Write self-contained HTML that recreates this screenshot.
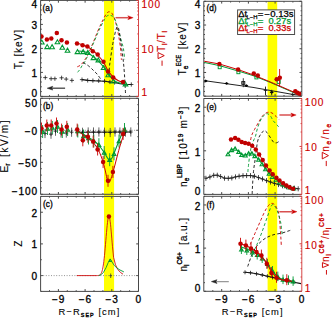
<!DOCTYPE html>
<html><head><meta charset="utf-8"><style>
html,body{margin:0;padding:0;background:#fff;}
svg{display:block;font-family:"Liberation Sans",sans-serif;}
</style></head><body>
<svg width="335" height="319" viewBox="0 0 335 319">
<rect width="335" height="319" fill="#fff"/>
<rect x="104.0" y="0" width="10.1" height="291.4" fill="#ffff00"/>
<rect x="267.6" y="1.3" width="9.6" height="290" fill="#ffff00"/>
<line x1="40.60" y1="0.40" x2="138.50" y2="0.40" stroke="#474747" stroke-width="1" />
<line x1="40.60" y1="96.40" x2="138.50" y2="96.40" stroke="#474747" stroke-width="1" />
<line x1="40.60" y1="0.40" x2="40.60" y2="96.40" stroke="#474747" stroke-width="1" />
<line x1="138.50" y1="0.40" x2="138.50" y2="96.40" stroke="#d43c3c" stroke-width="0.95" />
<line x1="49.50" y1="96.40" x2="49.50" y2="95.20" stroke="#474747" stroke-width="1" />
<line x1="49.50" y1="0.40" x2="49.50" y2="1.60" stroke="#474747" stroke-width="1" />
<line x1="58.40" y1="96.40" x2="58.40" y2="94.10" stroke="#474747" stroke-width="1" />
<line x1="58.40" y1="0.40" x2="58.40" y2="2.70" stroke="#474747" stroke-width="1" />
<line x1="67.30" y1="96.40" x2="67.30" y2="95.20" stroke="#474747" stroke-width="1" />
<line x1="67.30" y1="0.40" x2="67.30" y2="1.60" stroke="#474747" stroke-width="1" />
<line x1="76.20" y1="96.40" x2="76.20" y2="95.20" stroke="#474747" stroke-width="1" />
<line x1="76.20" y1="0.40" x2="76.20" y2="1.60" stroke="#474747" stroke-width="1" />
<line x1="85.10" y1="96.40" x2="85.10" y2="94.10" stroke="#474747" stroke-width="1" />
<line x1="85.10" y1="0.40" x2="85.10" y2="2.70" stroke="#474747" stroke-width="1" />
<line x1="94.00" y1="96.40" x2="94.00" y2="95.20" stroke="#474747" stroke-width="1" />
<line x1="94.00" y1="0.40" x2="94.00" y2="1.60" stroke="#474747" stroke-width="1" />
<line x1="102.90" y1="96.40" x2="102.90" y2="95.20" stroke="#474747" stroke-width="1" />
<line x1="102.90" y1="0.40" x2="102.90" y2="1.60" stroke="#474747" stroke-width="1" />
<line x1="111.80" y1="96.40" x2="111.80" y2="94.10" stroke="#474747" stroke-width="1" />
<line x1="111.80" y1="0.40" x2="111.80" y2="2.70" stroke="#474747" stroke-width="1" />
<line x1="120.70" y1="96.40" x2="120.70" y2="95.20" stroke="#474747" stroke-width="1" />
<line x1="120.70" y1="0.40" x2="120.70" y2="1.60" stroke="#474747" stroke-width="1" />
<line x1="129.60" y1="96.40" x2="129.60" y2="95.20" stroke="#474747" stroke-width="1" />
<line x1="129.60" y1="0.40" x2="129.60" y2="1.60" stroke="#474747" stroke-width="1" />
<line x1="40.60" y1="96.40" x2="42.90" y2="96.40" stroke="#474747" stroke-width="1" />
<line x1="40.60" y1="72.40" x2="42.90" y2="72.40" stroke="#474747" stroke-width="1" />
<line x1="40.60" y1="48.40" x2="42.90" y2="48.40" stroke="#474747" stroke-width="1" />
<line x1="40.60" y1="24.40" x2="42.90" y2="24.40" stroke="#474747" stroke-width="1" />
<line x1="40.60" y1="0.40" x2="42.90" y2="0.40" stroke="#474747" stroke-width="1" />
<line x1="40.60" y1="91.60" x2="41.80" y2="91.60" stroke="#474747" stroke-width="1" />
<line x1="40.60" y1="86.80" x2="41.80" y2="86.80" stroke="#474747" stroke-width="1" />
<line x1="40.60" y1="82.00" x2="41.80" y2="82.00" stroke="#474747" stroke-width="1" />
<line x1="40.60" y1="77.20" x2="41.80" y2="77.20" stroke="#474747" stroke-width="1" />
<line x1="40.60" y1="67.60" x2="41.80" y2="67.60" stroke="#474747" stroke-width="1" />
<line x1="40.60" y1="62.80" x2="41.80" y2="62.80" stroke="#474747" stroke-width="1" />
<line x1="40.60" y1="58.00" x2="41.80" y2="58.00" stroke="#474747" stroke-width="1" />
<line x1="40.60" y1="53.20" x2="41.80" y2="53.20" stroke="#474747" stroke-width="1" />
<line x1="40.60" y1="43.60" x2="41.80" y2="43.60" stroke="#474747" stroke-width="1" />
<line x1="40.60" y1="38.80" x2="41.80" y2="38.80" stroke="#474747" stroke-width="1" />
<line x1="40.60" y1="34.00" x2="41.80" y2="34.00" stroke="#474747" stroke-width="1" />
<line x1="40.60" y1="29.20" x2="41.80" y2="29.20" stroke="#474747" stroke-width="1" />
<line x1="40.60" y1="19.60" x2="41.80" y2="19.60" stroke="#474747" stroke-width="1" />
<line x1="40.60" y1="14.80" x2="41.80" y2="14.80" stroke="#474747" stroke-width="1" />
<line x1="40.60" y1="10.00" x2="41.80" y2="10.00" stroke="#474747" stroke-width="1" />
<line x1="40.60" y1="5.20" x2="41.80" y2="5.20" stroke="#474747" stroke-width="1" />
<line x1="138.50" y1="96.40" x2="136.20" y2="96.40" stroke="#d43c3c" stroke-width="1" />
<line x1="138.50" y1="48.40" x2="136.20" y2="48.40" stroke="#d43c3c" stroke-width="1" />
<line x1="138.50" y1="0.40" x2="136.20" y2="0.40" stroke="#d43c3c" stroke-width="1" />
<line x1="138.50" y1="81.95" x2="137.30" y2="81.95" stroke="#d43c3c" stroke-width="1" />
<line x1="138.50" y1="73.50" x2="137.30" y2="73.50" stroke="#d43c3c" stroke-width="1" />
<line x1="138.50" y1="67.50" x2="137.30" y2="67.50" stroke="#d43c3c" stroke-width="1" />
<line x1="138.50" y1="62.85" x2="137.30" y2="62.85" stroke="#d43c3c" stroke-width="1" />
<line x1="138.50" y1="59.05" x2="137.30" y2="59.05" stroke="#d43c3c" stroke-width="1" />
<line x1="138.50" y1="55.84" x2="137.30" y2="55.84" stroke="#d43c3c" stroke-width="1" />
<line x1="138.50" y1="53.05" x2="137.30" y2="53.05" stroke="#d43c3c" stroke-width="1" />
<line x1="138.50" y1="50.60" x2="137.30" y2="50.60" stroke="#d43c3c" stroke-width="1" />
<line x1="138.50" y1="33.95" x2="137.30" y2="33.95" stroke="#d43c3c" stroke-width="1" />
<line x1="138.50" y1="25.50" x2="137.30" y2="25.50" stroke="#d43c3c" stroke-width="1" />
<line x1="138.50" y1="19.50" x2="137.30" y2="19.50" stroke="#d43c3c" stroke-width="1" />
<line x1="138.50" y1="14.85" x2="137.30" y2="14.85" stroke="#d43c3c" stroke-width="1" />
<line x1="138.50" y1="11.05" x2="137.30" y2="11.05" stroke="#d43c3c" stroke-width="1" />
<line x1="138.50" y1="7.84" x2="137.30" y2="7.84" stroke="#d43c3c" stroke-width="1" />
<line x1="138.50" y1="5.05" x2="137.30" y2="5.05" stroke="#d43c3c" stroke-width="1" />
<line x1="138.50" y1="2.60" x2="137.30" y2="2.60" stroke="#d43c3c" stroke-width="1" />
<line x1="40.60" y1="98.30" x2="138.50" y2="98.30" stroke="#474747" stroke-width="1" />
<line x1="40.60" y1="194.30" x2="138.50" y2="194.30" stroke="#474747" stroke-width="1" />
<line x1="40.60" y1="98.30" x2="40.60" y2="194.30" stroke="#474747" stroke-width="1" />
<line x1="138.50" y1="98.30" x2="138.50" y2="194.30" stroke="#474747" stroke-width="1" />
<line x1="49.50" y1="194.30" x2="49.50" y2="193.10" stroke="#474747" stroke-width="1" />
<line x1="49.50" y1="98.30" x2="49.50" y2="99.50" stroke="#474747" stroke-width="1" />
<line x1="58.40" y1="194.30" x2="58.40" y2="192.00" stroke="#474747" stroke-width="1" />
<line x1="58.40" y1="98.30" x2="58.40" y2="100.60" stroke="#474747" stroke-width="1" />
<line x1="67.30" y1="194.30" x2="67.30" y2="193.10" stroke="#474747" stroke-width="1" />
<line x1="67.30" y1="98.30" x2="67.30" y2="99.50" stroke="#474747" stroke-width="1" />
<line x1="76.20" y1="194.30" x2="76.20" y2="193.10" stroke="#474747" stroke-width="1" />
<line x1="76.20" y1="98.30" x2="76.20" y2="99.50" stroke="#474747" stroke-width="1" />
<line x1="85.10" y1="194.30" x2="85.10" y2="192.00" stroke="#474747" stroke-width="1" />
<line x1="85.10" y1="98.30" x2="85.10" y2="100.60" stroke="#474747" stroke-width="1" />
<line x1="94.00" y1="194.30" x2="94.00" y2="193.10" stroke="#474747" stroke-width="1" />
<line x1="94.00" y1="98.30" x2="94.00" y2="99.50" stroke="#474747" stroke-width="1" />
<line x1="102.90" y1="194.30" x2="102.90" y2="193.10" stroke="#474747" stroke-width="1" />
<line x1="102.90" y1="98.30" x2="102.90" y2="99.50" stroke="#474747" stroke-width="1" />
<line x1="111.80" y1="194.30" x2="111.80" y2="192.00" stroke="#474747" stroke-width="1" />
<line x1="111.80" y1="98.30" x2="111.80" y2="100.60" stroke="#474747" stroke-width="1" />
<line x1="120.70" y1="194.30" x2="120.70" y2="193.10" stroke="#474747" stroke-width="1" />
<line x1="120.70" y1="98.30" x2="120.70" y2="99.50" stroke="#474747" stroke-width="1" />
<line x1="129.60" y1="194.30" x2="129.60" y2="193.10" stroke="#474747" stroke-width="1" />
<line x1="129.60" y1="98.30" x2="129.60" y2="99.50" stroke="#474747" stroke-width="1" />
<line x1="40.60" y1="194.30" x2="42.90" y2="194.30" stroke="#474747" stroke-width="1" />
<line x1="138.50" y1="194.30" x2="136.20" y2="194.30" stroke="#474747" stroke-width="1" />
<line x1="40.60" y1="162.30" x2="42.90" y2="162.30" stroke="#474747" stroke-width="1" />
<line x1="138.50" y1="162.30" x2="136.20" y2="162.30" stroke="#474747" stroke-width="1" />
<line x1="40.60" y1="130.30" x2="42.90" y2="130.30" stroke="#474747" stroke-width="1" />
<line x1="138.50" y1="130.30" x2="136.20" y2="130.30" stroke="#474747" stroke-width="1" />
<line x1="40.60" y1="98.30" x2="42.90" y2="98.30" stroke="#474747" stroke-width="1" />
<line x1="138.50" y1="98.30" x2="136.20" y2="98.30" stroke="#474747" stroke-width="1" />
<line x1="40.60" y1="187.90" x2="41.80" y2="187.90" stroke="#474747" stroke-width="1" />
<line x1="138.50" y1="187.90" x2="137.30" y2="187.90" stroke="#474747" stroke-width="1" />
<line x1="40.60" y1="181.50" x2="41.80" y2="181.50" stroke="#474747" stroke-width="1" />
<line x1="138.50" y1="181.50" x2="137.30" y2="181.50" stroke="#474747" stroke-width="1" />
<line x1="40.60" y1="175.10" x2="41.80" y2="175.10" stroke="#474747" stroke-width="1" />
<line x1="138.50" y1="175.10" x2="137.30" y2="175.10" stroke="#474747" stroke-width="1" />
<line x1="40.60" y1="168.70" x2="41.80" y2="168.70" stroke="#474747" stroke-width="1" />
<line x1="138.50" y1="168.70" x2="137.30" y2="168.70" stroke="#474747" stroke-width="1" />
<line x1="40.60" y1="155.90" x2="41.80" y2="155.90" stroke="#474747" stroke-width="1" />
<line x1="138.50" y1="155.90" x2="137.30" y2="155.90" stroke="#474747" stroke-width="1" />
<line x1="40.60" y1="149.50" x2="41.80" y2="149.50" stroke="#474747" stroke-width="1" />
<line x1="138.50" y1="149.50" x2="137.30" y2="149.50" stroke="#474747" stroke-width="1" />
<line x1="40.60" y1="143.10" x2="41.80" y2="143.10" stroke="#474747" stroke-width="1" />
<line x1="138.50" y1="143.10" x2="137.30" y2="143.10" stroke="#474747" stroke-width="1" />
<line x1="40.60" y1="136.70" x2="41.80" y2="136.70" stroke="#474747" stroke-width="1" />
<line x1="138.50" y1="136.70" x2="137.30" y2="136.70" stroke="#474747" stroke-width="1" />
<line x1="40.60" y1="123.90" x2="41.80" y2="123.90" stroke="#474747" stroke-width="1" />
<line x1="138.50" y1="123.90" x2="137.30" y2="123.90" stroke="#474747" stroke-width="1" />
<line x1="40.60" y1="117.50" x2="41.80" y2="117.50" stroke="#474747" stroke-width="1" />
<line x1="138.50" y1="117.50" x2="137.30" y2="117.50" stroke="#474747" stroke-width="1" />
<line x1="40.60" y1="111.10" x2="41.80" y2="111.10" stroke="#474747" stroke-width="1" />
<line x1="138.50" y1="111.10" x2="137.30" y2="111.10" stroke="#474747" stroke-width="1" />
<line x1="40.60" y1="104.70" x2="41.80" y2="104.70" stroke="#474747" stroke-width="1" />
<line x1="138.50" y1="104.70" x2="137.30" y2="104.70" stroke="#474747" stroke-width="1" />
<line x1="40.60" y1="196.40" x2="138.50" y2="196.40" stroke="#474747" stroke-width="1" />
<line x1="40.60" y1="291.40" x2="138.50" y2="291.40" stroke="#474747" stroke-width="1" />
<line x1="40.60" y1="196.40" x2="40.60" y2="291.40" stroke="#474747" stroke-width="1" />
<line x1="138.50" y1="196.40" x2="138.50" y2="291.40" stroke="#474747" stroke-width="1" />
<line x1="49.50" y1="291.40" x2="49.50" y2="290.20" stroke="#474747" stroke-width="1" />
<line x1="49.50" y1="196.40" x2="49.50" y2="197.60" stroke="#474747" stroke-width="1" />
<line x1="58.40" y1="291.40" x2="58.40" y2="289.10" stroke="#474747" stroke-width="1" />
<line x1="58.40" y1="196.40" x2="58.40" y2="198.70" stroke="#474747" stroke-width="1" />
<line x1="67.30" y1="291.40" x2="67.30" y2="290.20" stroke="#474747" stroke-width="1" />
<line x1="67.30" y1="196.40" x2="67.30" y2="197.60" stroke="#474747" stroke-width="1" />
<line x1="76.20" y1="291.40" x2="76.20" y2="290.20" stroke="#474747" stroke-width="1" />
<line x1="76.20" y1="196.40" x2="76.20" y2="197.60" stroke="#474747" stroke-width="1" />
<line x1="85.10" y1="291.40" x2="85.10" y2="289.10" stroke="#474747" stroke-width="1" />
<line x1="85.10" y1="196.40" x2="85.10" y2="198.70" stroke="#474747" stroke-width="1" />
<line x1="94.00" y1="291.40" x2="94.00" y2="290.20" stroke="#474747" stroke-width="1" />
<line x1="94.00" y1="196.40" x2="94.00" y2="197.60" stroke="#474747" stroke-width="1" />
<line x1="102.90" y1="291.40" x2="102.90" y2="290.20" stroke="#474747" stroke-width="1" />
<line x1="102.90" y1="196.40" x2="102.90" y2="197.60" stroke="#474747" stroke-width="1" />
<line x1="111.80" y1="291.40" x2="111.80" y2="289.10" stroke="#474747" stroke-width="1" />
<line x1="111.80" y1="196.40" x2="111.80" y2="198.70" stroke="#474747" stroke-width="1" />
<line x1="120.70" y1="291.40" x2="120.70" y2="290.20" stroke="#474747" stroke-width="1" />
<line x1="120.70" y1="196.40" x2="120.70" y2="197.60" stroke="#474747" stroke-width="1" />
<line x1="129.60" y1="291.40" x2="129.60" y2="290.20" stroke="#474747" stroke-width="1" />
<line x1="129.60" y1="196.40" x2="129.60" y2="197.60" stroke="#474747" stroke-width="1" />
<line x1="40.60" y1="275.57" x2="42.90" y2="275.57" stroke="#474747" stroke-width="1" />
<line x1="138.50" y1="275.57" x2="136.20" y2="275.57" stroke="#474747" stroke-width="1" />
<line x1="40.60" y1="243.90" x2="42.90" y2="243.90" stroke="#474747" stroke-width="1" />
<line x1="138.50" y1="243.90" x2="136.20" y2="243.90" stroke="#474747" stroke-width="1" />
<line x1="40.60" y1="212.23" x2="42.90" y2="212.23" stroke="#474747" stroke-width="1" />
<line x1="138.50" y1="212.23" x2="136.20" y2="212.23" stroke="#474747" stroke-width="1" />
<line x1="40.60" y1="291.40" x2="41.80" y2="291.40" stroke="#474747" stroke-width="1" />
<line x1="138.50" y1="291.40" x2="137.30" y2="291.40" stroke="#474747" stroke-width="1" />
<line x1="40.60" y1="259.73" x2="41.80" y2="259.73" stroke="#474747" stroke-width="1" />
<line x1="138.50" y1="259.73" x2="137.30" y2="259.73" stroke="#474747" stroke-width="1" />
<line x1="40.60" y1="228.07" x2="41.80" y2="228.07" stroke="#474747" stroke-width="1" />
<line x1="138.50" y1="228.07" x2="137.30" y2="228.07" stroke="#474747" stroke-width="1" />
<line x1="40.60" y1="196.40" x2="41.80" y2="196.40" stroke="#474747" stroke-width="1" />
<line x1="138.50" y1="196.40" x2="137.30" y2="196.40" stroke="#474747" stroke-width="1" />
<line x1="203.80" y1="1.30" x2="301.80" y2="1.30" stroke="#474747" stroke-width="1" />
<line x1="203.80" y1="96.20" x2="301.80" y2="96.20" stroke="#474747" stroke-width="1" />
<line x1="203.80" y1="1.30" x2="203.80" y2="96.20" stroke="#474747" stroke-width="1" />
<line x1="301.80" y1="1.30" x2="301.80" y2="96.20" stroke="#474747" stroke-width="1" />
<line x1="212.80" y1="96.20" x2="212.80" y2="95.00" stroke="#474747" stroke-width="1" />
<line x1="212.80" y1="1.30" x2="212.80" y2="2.50" stroke="#474747" stroke-width="1" />
<line x1="221.70" y1="96.20" x2="221.70" y2="93.90" stroke="#474747" stroke-width="1" />
<line x1="221.70" y1="1.30" x2="221.70" y2="3.60" stroke="#474747" stroke-width="1" />
<line x1="230.60" y1="96.20" x2="230.60" y2="95.00" stroke="#474747" stroke-width="1" />
<line x1="230.60" y1="1.30" x2="230.60" y2="2.50" stroke="#474747" stroke-width="1" />
<line x1="239.50" y1="96.20" x2="239.50" y2="95.00" stroke="#474747" stroke-width="1" />
<line x1="239.50" y1="1.30" x2="239.50" y2="2.50" stroke="#474747" stroke-width="1" />
<line x1="248.40" y1="96.20" x2="248.40" y2="93.90" stroke="#474747" stroke-width="1" />
<line x1="248.40" y1="1.30" x2="248.40" y2="3.60" stroke="#474747" stroke-width="1" />
<line x1="257.30" y1="96.20" x2="257.30" y2="95.00" stroke="#474747" stroke-width="1" />
<line x1="257.30" y1="1.30" x2="257.30" y2="2.50" stroke="#474747" stroke-width="1" />
<line x1="266.20" y1="96.20" x2="266.20" y2="95.00" stroke="#474747" stroke-width="1" />
<line x1="266.20" y1="1.30" x2="266.20" y2="2.50" stroke="#474747" stroke-width="1" />
<line x1="275.10" y1="96.20" x2="275.10" y2="93.90" stroke="#474747" stroke-width="1" />
<line x1="275.10" y1="1.30" x2="275.10" y2="3.60" stroke="#474747" stroke-width="1" />
<line x1="284.00" y1="96.20" x2="284.00" y2="95.00" stroke="#474747" stroke-width="1" />
<line x1="284.00" y1="1.30" x2="284.00" y2="2.50" stroke="#474747" stroke-width="1" />
<line x1="292.90" y1="96.20" x2="292.90" y2="95.00" stroke="#474747" stroke-width="1" />
<line x1="292.90" y1="1.30" x2="292.90" y2="2.50" stroke="#474747" stroke-width="1" />
<line x1="203.80" y1="96.20" x2="206.10" y2="96.20" stroke="#474747" stroke-width="1" />
<line x1="301.80" y1="96.20" x2="299.50" y2="96.20" stroke="#474747" stroke-width="1" />
<line x1="203.80" y1="72.47" x2="206.10" y2="72.47" stroke="#474747" stroke-width="1" />
<line x1="301.80" y1="72.47" x2="299.50" y2="72.47" stroke="#474747" stroke-width="1" />
<line x1="203.80" y1="48.75" x2="206.10" y2="48.75" stroke="#474747" stroke-width="1" />
<line x1="301.80" y1="48.75" x2="299.50" y2="48.75" stroke="#474747" stroke-width="1" />
<line x1="203.80" y1="25.02" x2="206.10" y2="25.02" stroke="#474747" stroke-width="1" />
<line x1="301.80" y1="25.02" x2="299.50" y2="25.02" stroke="#474747" stroke-width="1" />
<line x1="203.80" y1="1.30" x2="206.10" y2="1.30" stroke="#474747" stroke-width="1" />
<line x1="301.80" y1="1.30" x2="299.50" y2="1.30" stroke="#474747" stroke-width="1" />
<line x1="203.80" y1="91.45" x2="205.00" y2="91.45" stroke="#474747" stroke-width="1" />
<line x1="301.80" y1="91.45" x2="300.60" y2="91.45" stroke="#474747" stroke-width="1" />
<line x1="203.80" y1="86.71" x2="205.00" y2="86.71" stroke="#474747" stroke-width="1" />
<line x1="301.80" y1="86.71" x2="300.60" y2="86.71" stroke="#474747" stroke-width="1" />
<line x1="203.80" y1="81.97" x2="205.00" y2="81.97" stroke="#474747" stroke-width="1" />
<line x1="301.80" y1="81.97" x2="300.60" y2="81.97" stroke="#474747" stroke-width="1" />
<line x1="203.80" y1="77.22" x2="205.00" y2="77.22" stroke="#474747" stroke-width="1" />
<line x1="301.80" y1="77.22" x2="300.60" y2="77.22" stroke="#474747" stroke-width="1" />
<line x1="203.80" y1="67.73" x2="205.00" y2="67.73" stroke="#474747" stroke-width="1" />
<line x1="301.80" y1="67.73" x2="300.60" y2="67.73" stroke="#474747" stroke-width="1" />
<line x1="203.80" y1="62.98" x2="205.00" y2="62.98" stroke="#474747" stroke-width="1" />
<line x1="301.80" y1="62.98" x2="300.60" y2="62.98" stroke="#474747" stroke-width="1" />
<line x1="203.80" y1="58.24" x2="205.00" y2="58.24" stroke="#474747" stroke-width="1" />
<line x1="301.80" y1="58.24" x2="300.60" y2="58.24" stroke="#474747" stroke-width="1" />
<line x1="203.80" y1="53.49" x2="205.00" y2="53.49" stroke="#474747" stroke-width="1" />
<line x1="301.80" y1="53.49" x2="300.60" y2="53.49" stroke="#474747" stroke-width="1" />
<line x1="203.80" y1="44.00" x2="205.00" y2="44.00" stroke="#474747" stroke-width="1" />
<line x1="301.80" y1="44.00" x2="300.60" y2="44.00" stroke="#474747" stroke-width="1" />
<line x1="203.80" y1="39.26" x2="205.00" y2="39.26" stroke="#474747" stroke-width="1" />
<line x1="301.80" y1="39.26" x2="300.60" y2="39.26" stroke="#474747" stroke-width="1" />
<line x1="203.80" y1="34.52" x2="205.00" y2="34.52" stroke="#474747" stroke-width="1" />
<line x1="301.80" y1="34.52" x2="300.60" y2="34.52" stroke="#474747" stroke-width="1" />
<line x1="203.80" y1="29.77" x2="205.00" y2="29.77" stroke="#474747" stroke-width="1" />
<line x1="301.80" y1="29.77" x2="300.60" y2="29.77" stroke="#474747" stroke-width="1" />
<line x1="203.80" y1="20.28" x2="205.00" y2="20.28" stroke="#474747" stroke-width="1" />
<line x1="301.80" y1="20.28" x2="300.60" y2="20.28" stroke="#474747" stroke-width="1" />
<line x1="203.80" y1="15.53" x2="205.00" y2="15.53" stroke="#474747" stroke-width="1" />
<line x1="301.80" y1="15.53" x2="300.60" y2="15.53" stroke="#474747" stroke-width="1" />
<line x1="203.80" y1="10.79" x2="205.00" y2="10.79" stroke="#474747" stroke-width="1" />
<line x1="301.80" y1="10.79" x2="300.60" y2="10.79" stroke="#474747" stroke-width="1" />
<line x1="203.80" y1="6.05" x2="205.00" y2="6.05" stroke="#474747" stroke-width="1" />
<line x1="301.80" y1="6.05" x2="300.60" y2="6.05" stroke="#474747" stroke-width="1" />
<line x1="203.80" y1="98.50" x2="301.80" y2="98.50" stroke="#474747" stroke-width="1" />
<line x1="203.80" y1="194.40" x2="301.80" y2="194.40" stroke="#474747" stroke-width="1" />
<line x1="203.80" y1="98.50" x2="203.80" y2="194.40" stroke="#474747" stroke-width="1" />
<line x1="301.80" y1="98.50" x2="301.80" y2="194.40" stroke="#d43c3c" stroke-width="0.95" />
<line x1="212.80" y1="194.40" x2="212.80" y2="193.20" stroke="#474747" stroke-width="1" />
<line x1="212.80" y1="98.50" x2="212.80" y2="99.70" stroke="#474747" stroke-width="1" />
<line x1="221.70" y1="194.40" x2="221.70" y2="192.10" stroke="#474747" stroke-width="1" />
<line x1="221.70" y1="98.50" x2="221.70" y2="100.80" stroke="#474747" stroke-width="1" />
<line x1="230.60" y1="194.40" x2="230.60" y2="193.20" stroke="#474747" stroke-width="1" />
<line x1="230.60" y1="98.50" x2="230.60" y2="99.70" stroke="#474747" stroke-width="1" />
<line x1="239.50" y1="194.40" x2="239.50" y2="193.20" stroke="#474747" stroke-width="1" />
<line x1="239.50" y1="98.50" x2="239.50" y2="99.70" stroke="#474747" stroke-width="1" />
<line x1="248.40" y1="194.40" x2="248.40" y2="192.10" stroke="#474747" stroke-width="1" />
<line x1="248.40" y1="98.50" x2="248.40" y2="100.80" stroke="#474747" stroke-width="1" />
<line x1="257.30" y1="194.40" x2="257.30" y2="193.20" stroke="#474747" stroke-width="1" />
<line x1="257.30" y1="98.50" x2="257.30" y2="99.70" stroke="#474747" stroke-width="1" />
<line x1="266.20" y1="194.40" x2="266.20" y2="193.20" stroke="#474747" stroke-width="1" />
<line x1="266.20" y1="98.50" x2="266.20" y2="99.70" stroke="#474747" stroke-width="1" />
<line x1="275.10" y1="194.40" x2="275.10" y2="192.10" stroke="#474747" stroke-width="1" />
<line x1="275.10" y1="98.50" x2="275.10" y2="100.80" stroke="#474747" stroke-width="1" />
<line x1="284.00" y1="194.40" x2="284.00" y2="193.20" stroke="#474747" stroke-width="1" />
<line x1="284.00" y1="98.50" x2="284.00" y2="99.70" stroke="#474747" stroke-width="1" />
<line x1="292.90" y1="194.40" x2="292.90" y2="193.20" stroke="#474747" stroke-width="1" />
<line x1="292.90" y1="98.50" x2="292.90" y2="99.70" stroke="#474747" stroke-width="1" />
<line x1="203.80" y1="194.40" x2="206.10" y2="194.40" stroke="#474747" stroke-width="1" />
<line x1="203.80" y1="150.81" x2="206.10" y2="150.81" stroke="#474747" stroke-width="1" />
<line x1="203.80" y1="107.22" x2="206.10" y2="107.22" stroke="#474747" stroke-width="1" />
<line x1="203.80" y1="185.68" x2="205.00" y2="185.68" stroke="#474747" stroke-width="1" />
<line x1="203.80" y1="176.96" x2="205.00" y2="176.96" stroke="#474747" stroke-width="1" />
<line x1="203.80" y1="168.25" x2="205.00" y2="168.25" stroke="#474747" stroke-width="1" />
<line x1="203.80" y1="159.53" x2="205.00" y2="159.53" stroke="#474747" stroke-width="1" />
<line x1="203.80" y1="142.09" x2="205.00" y2="142.09" stroke="#474747" stroke-width="1" />
<line x1="203.80" y1="133.37" x2="205.00" y2="133.37" stroke="#474747" stroke-width="1" />
<line x1="203.80" y1="124.65" x2="205.00" y2="124.65" stroke="#474747" stroke-width="1" />
<line x1="203.80" y1="115.94" x2="205.00" y2="115.94" stroke="#474747" stroke-width="1" />
<line x1="203.80" y1="98.50" x2="205.00" y2="98.50" stroke="#474747" stroke-width="1" />
<line x1="301.80" y1="194.40" x2="299.50" y2="194.40" stroke="#d43c3c" stroke-width="1" />
<line x1="301.80" y1="146.45" x2="299.50" y2="146.45" stroke="#d43c3c" stroke-width="1" />
<line x1="301.80" y1="98.50" x2="299.50" y2="98.50" stroke="#d43c3c" stroke-width="1" />
<line x1="301.80" y1="179.97" x2="300.60" y2="179.97" stroke="#d43c3c" stroke-width="1" />
<line x1="301.80" y1="171.52" x2="300.60" y2="171.52" stroke="#d43c3c" stroke-width="1" />
<line x1="301.80" y1="165.53" x2="300.60" y2="165.53" stroke="#d43c3c" stroke-width="1" />
<line x1="301.80" y1="160.88" x2="300.60" y2="160.88" stroke="#d43c3c" stroke-width="1" />
<line x1="301.80" y1="157.09" x2="300.60" y2="157.09" stroke="#d43c3c" stroke-width="1" />
<line x1="301.80" y1="153.88" x2="300.60" y2="153.88" stroke="#d43c3c" stroke-width="1" />
<line x1="301.80" y1="151.10" x2="300.60" y2="151.10" stroke="#d43c3c" stroke-width="1" />
<line x1="301.80" y1="148.64" x2="300.60" y2="148.64" stroke="#d43c3c" stroke-width="1" />
<line x1="301.80" y1="132.02" x2="300.60" y2="132.02" stroke="#d43c3c" stroke-width="1" />
<line x1="301.80" y1="123.57" x2="300.60" y2="123.57" stroke="#d43c3c" stroke-width="1" />
<line x1="301.80" y1="117.58" x2="300.60" y2="117.58" stroke="#d43c3c" stroke-width="1" />
<line x1="301.80" y1="112.93" x2="300.60" y2="112.93" stroke="#d43c3c" stroke-width="1" />
<line x1="301.80" y1="109.14" x2="300.60" y2="109.14" stroke="#d43c3c" stroke-width="1" />
<line x1="301.80" y1="105.93" x2="300.60" y2="105.93" stroke="#d43c3c" stroke-width="1" />
<line x1="301.80" y1="103.15" x2="300.60" y2="103.15" stroke="#d43c3c" stroke-width="1" />
<line x1="301.80" y1="100.69" x2="300.60" y2="100.69" stroke="#d43c3c" stroke-width="1" />
<line x1="203.80" y1="196.30" x2="301.80" y2="196.30" stroke="#474747" stroke-width="1" />
<line x1="203.80" y1="291.30" x2="301.80" y2="291.30" stroke="#474747" stroke-width="1" />
<line x1="203.80" y1="196.30" x2="203.80" y2="291.30" stroke="#474747" stroke-width="1" />
<line x1="301.80" y1="196.30" x2="301.80" y2="291.30" stroke="#d43c3c" stroke-width="0.95" />
<line x1="212.80" y1="291.30" x2="212.80" y2="290.10" stroke="#474747" stroke-width="1" />
<line x1="212.80" y1="196.30" x2="212.80" y2="197.50" stroke="#474747" stroke-width="1" />
<line x1="221.70" y1="291.30" x2="221.70" y2="289.00" stroke="#474747" stroke-width="1" />
<line x1="221.70" y1="196.30" x2="221.70" y2="198.60" stroke="#474747" stroke-width="1" />
<line x1="230.60" y1="291.30" x2="230.60" y2="290.10" stroke="#474747" stroke-width="1" />
<line x1="230.60" y1="196.30" x2="230.60" y2="197.50" stroke="#474747" stroke-width="1" />
<line x1="239.50" y1="291.30" x2="239.50" y2="290.10" stroke="#474747" stroke-width="1" />
<line x1="239.50" y1="196.30" x2="239.50" y2="197.50" stroke="#474747" stroke-width="1" />
<line x1="248.40" y1="291.30" x2="248.40" y2="289.00" stroke="#474747" stroke-width="1" />
<line x1="248.40" y1="196.30" x2="248.40" y2="198.60" stroke="#474747" stroke-width="1" />
<line x1="257.30" y1="291.30" x2="257.30" y2="290.10" stroke="#474747" stroke-width="1" />
<line x1="257.30" y1="196.30" x2="257.30" y2="197.50" stroke="#474747" stroke-width="1" />
<line x1="266.20" y1="291.30" x2="266.20" y2="290.10" stroke="#474747" stroke-width="1" />
<line x1="266.20" y1="196.30" x2="266.20" y2="197.50" stroke="#474747" stroke-width="1" />
<line x1="275.10" y1="291.30" x2="275.10" y2="289.00" stroke="#474747" stroke-width="1" />
<line x1="275.10" y1="196.30" x2="275.10" y2="198.60" stroke="#474747" stroke-width="1" />
<line x1="284.00" y1="291.30" x2="284.00" y2="290.10" stroke="#474747" stroke-width="1" />
<line x1="284.00" y1="196.30" x2="284.00" y2="197.50" stroke="#474747" stroke-width="1" />
<line x1="292.90" y1="291.30" x2="292.90" y2="290.10" stroke="#474747" stroke-width="1" />
<line x1="292.90" y1="196.30" x2="292.90" y2="197.50" stroke="#474747" stroke-width="1" />
<line x1="203.80" y1="291.30" x2="206.10" y2="291.30" stroke="#474747" stroke-width="1" />
<line x1="203.80" y1="248.12" x2="206.10" y2="248.12" stroke="#474747" stroke-width="1" />
<line x1="203.80" y1="204.94" x2="206.10" y2="204.94" stroke="#474747" stroke-width="1" />
<line x1="203.80" y1="282.66" x2="205.00" y2="282.66" stroke="#474747" stroke-width="1" />
<line x1="203.80" y1="274.03" x2="205.00" y2="274.03" stroke="#474747" stroke-width="1" />
<line x1="203.80" y1="265.39" x2="205.00" y2="265.39" stroke="#474747" stroke-width="1" />
<line x1="203.80" y1="256.75" x2="205.00" y2="256.75" stroke="#474747" stroke-width="1" />
<line x1="203.80" y1="239.48" x2="205.00" y2="239.48" stroke="#474747" stroke-width="1" />
<line x1="203.80" y1="230.85" x2="205.00" y2="230.85" stroke="#474747" stroke-width="1" />
<line x1="203.80" y1="222.21" x2="205.00" y2="222.21" stroke="#474747" stroke-width="1" />
<line x1="203.80" y1="213.57" x2="205.00" y2="213.57" stroke="#474747" stroke-width="1" />
<line x1="203.80" y1="196.30" x2="205.00" y2="196.30" stroke="#474747" stroke-width="1" />
<line x1="301.80" y1="291.30" x2="299.50" y2="291.30" stroke="#d43c3c" stroke-width="1" />
<line x1="301.80" y1="243.80" x2="299.50" y2="243.80" stroke="#d43c3c" stroke-width="1" />
<line x1="301.80" y1="196.30" x2="299.50" y2="196.30" stroke="#d43c3c" stroke-width="1" />
<line x1="301.80" y1="277.00" x2="300.60" y2="277.00" stroke="#d43c3c" stroke-width="1" />
<line x1="301.80" y1="268.64" x2="300.60" y2="268.64" stroke="#d43c3c" stroke-width="1" />
<line x1="301.80" y1="262.70" x2="300.60" y2="262.70" stroke="#d43c3c" stroke-width="1" />
<line x1="301.80" y1="258.10" x2="300.60" y2="258.10" stroke="#d43c3c" stroke-width="1" />
<line x1="301.80" y1="254.34" x2="300.60" y2="254.34" stroke="#d43c3c" stroke-width="1" />
<line x1="301.80" y1="251.16" x2="300.60" y2="251.16" stroke="#d43c3c" stroke-width="1" />
<line x1="301.80" y1="248.40" x2="300.60" y2="248.40" stroke="#d43c3c" stroke-width="1" />
<line x1="301.80" y1="245.97" x2="300.60" y2="245.97" stroke="#d43c3c" stroke-width="1" />
<line x1="301.80" y1="229.50" x2="300.60" y2="229.50" stroke="#d43c3c" stroke-width="1" />
<line x1="301.80" y1="221.14" x2="300.60" y2="221.14" stroke="#d43c3c" stroke-width="1" />
<line x1="301.80" y1="215.20" x2="300.60" y2="215.20" stroke="#d43c3c" stroke-width="1" />
<line x1="301.80" y1="210.60" x2="300.60" y2="210.60" stroke="#d43c3c" stroke-width="1" />
<line x1="301.80" y1="206.84" x2="300.60" y2="206.84" stroke="#d43c3c" stroke-width="1" />
<line x1="301.80" y1="203.66" x2="300.60" y2="203.66" stroke="#d43c3c" stroke-width="1" />
<line x1="301.80" y1="200.90" x2="300.60" y2="200.90" stroke="#d43c3c" stroke-width="1" />
<line x1="301.80" y1="198.47" x2="300.60" y2="198.47" stroke="#d43c3c" stroke-width="1" />
<text x="38.00" y="7.60" font-size="10.1" text-anchor="end" fill="#000" letter-spacing="0.85" stroke-width="0.3" stroke="#000">4</text>
<text x="38.00" y="29.20" font-size="10.1" text-anchor="end" fill="#000" letter-spacing="0.85" stroke-width="0.3" stroke="#000">3</text>
<text x="38.00" y="53.00" font-size="10.1" text-anchor="end" fill="#000" letter-spacing="0.85" stroke-width="0.3" stroke="#000">2</text>
<text x="38.00" y="76.70" font-size="10.1" text-anchor="end" fill="#000" letter-spacing="0.85" stroke-width="0.3" stroke="#000">1</text>
<text x="38.00" y="96.60" font-size="10.1" text-anchor="end" fill="#000" letter-spacing="0.85" stroke-width="0.3" stroke="#000">0</text>
<text x="38.00" y="106.70" font-size="10.1" text-anchor="end" fill="#000" letter-spacing="0.85" stroke-width="0.3" stroke="#000">50</text>
<text x="38.00" y="135.20" font-size="10.1" text-anchor="end" fill="#000" letter-spacing="0.85" stroke-width="0.3" stroke="#000">−0</text>
<text x="38.00" y="167.00" font-size="10.1" text-anchor="end" fill="#000" letter-spacing="0.85" stroke-width="0.3" stroke="#000">−50</text>
<text x="38.00" y="194.70" font-size="10.1" text-anchor="end" fill="#000" letter-spacing="0.85" stroke-width="0.3" stroke="#000">−100</text>
<text x="38.00" y="217.00" font-size="10.1" text-anchor="end" fill="#000" letter-spacing="0.85" stroke-width="0.3" stroke="#000">2</text>
<text x="38.00" y="248.40" font-size="10.1" text-anchor="end" fill="#000" letter-spacing="0.85" stroke-width="0.3" stroke="#000">1</text>
<text x="38.00" y="280.30" font-size="10.1" text-anchor="end" fill="#000" letter-spacing="0.85" stroke-width="0.3" stroke="#000">0</text>
<text x="141.50" y="8.40" font-size="10.1" text-anchor="start" fill="#cc0000" letter-spacing="0.85" stroke-width="0.12" stroke="#cc0000">100</text>
<text x="141.50" y="52.90" font-size="10.1" text-anchor="start" fill="#cc0000" letter-spacing="0.85" stroke-width="0.12" stroke="#cc0000">10</text>
<text x="141.50" y="96.40" font-size="10.1" text-anchor="start" fill="#cc0000" letter-spacing="0.85" stroke-width="0.12" stroke="#cc0000">1</text>
<text x="201.20" y="8.40" font-size="10.1" text-anchor="end" fill="#000" letter-spacing="0.85" stroke-width="0.3" stroke="#000">4</text>
<text x="201.20" y="29.20" font-size="10.1" text-anchor="end" fill="#000" letter-spacing="0.85" stroke-width="0.3" stroke="#000">3</text>
<text x="201.20" y="53.10" font-size="10.1" text-anchor="end" fill="#000" letter-spacing="0.85" stroke-width="0.3" stroke="#000">2</text>
<text x="201.20" y="77.30" font-size="10.1" text-anchor="end" fill="#000" letter-spacing="0.85" stroke-width="0.3" stroke="#000">1</text>
<text x="201.20" y="97.00" font-size="10.1" text-anchor="end" fill="#000" letter-spacing="0.85" stroke-width="0.3" stroke="#000">0</text>
<text x="201.20" y="112.20" font-size="10.1" text-anchor="end" fill="#000" letter-spacing="0.85" stroke-width="0.3" stroke="#000">2</text>
<text x="201.20" y="155.70" font-size="10.1" text-anchor="end" fill="#000" letter-spacing="0.85" stroke-width="0.3" stroke="#000">1</text>
<text x="201.20" y="195.30" font-size="10.1" text-anchor="end" fill="#000" letter-spacing="0.85" stroke-width="0.3" stroke="#000">0</text>
<text x="201.20" y="209.90" font-size="10.1" text-anchor="end" fill="#000" letter-spacing="0.85" stroke-width="0.3" stroke="#000">2</text>
<text x="201.20" y="253.10" font-size="10.1" text-anchor="end" fill="#000" letter-spacing="0.85" stroke-width="0.3" stroke="#000">1</text>
<text x="201.20" y="292.20" font-size="10.1" text-anchor="end" fill="#000" letter-spacing="0.85" stroke-width="0.3" stroke="#000">0</text>
<text x="304.80" y="105.70" font-size="10.1" text-anchor="start" fill="#cc0000" letter-spacing="0.85" stroke-width="0.12" stroke="#cc0000">100</text>
<text x="304.80" y="151.00" font-size="10.1" text-anchor="start" fill="#cc0000" letter-spacing="0.85" stroke-width="0.12" stroke="#cc0000">10</text>
<text x="304.80" y="194.30" font-size="10.1" text-anchor="start" fill="#cc0000" letter-spacing="0.85" stroke-width="0.12" stroke="#cc0000">1</text>
<text x="304.80" y="204.30" font-size="10.1" text-anchor="start" fill="#cc0000" letter-spacing="0.85" stroke-width="0.12" stroke="#cc0000">100</text>
<text x="304.80" y="249.00" font-size="10.1" text-anchor="start" fill="#cc0000" letter-spacing="0.85" stroke-width="0.12" stroke="#cc0000">10</text>
<text x="304.80" y="292.40" font-size="10.1" text-anchor="start" fill="#cc0000" letter-spacing="0.85" stroke-width="0.12" stroke="#cc0000">1</text>
<text x="58.60" y="303.30" font-size="10.1" text-anchor="middle" fill="#000" letter-spacing="0.85" stroke-width="0.3" stroke="#000">−9</text>
<text x="85.30" y="303.30" font-size="10.1" text-anchor="middle" fill="#000" letter-spacing="0.85" stroke-width="0.3" stroke="#000">−6</text>
<text x="112.00" y="303.30" font-size="10.1" text-anchor="middle" fill="#000" letter-spacing="0.85" stroke-width="0.3" stroke="#000">−3</text>
<text x="138.80" y="303.30" font-size="10.1" text-anchor="middle" fill="#000" letter-spacing="0.85" stroke-width="0.3" stroke="#000">0</text>
<text x="221.90" y="303.30" font-size="10.1" text-anchor="middle" fill="#000" letter-spacing="0.85" stroke-width="0.3" stroke="#000">−9</text>
<text x="248.60" y="303.30" font-size="10.1" text-anchor="middle" fill="#000" letter-spacing="0.85" stroke-width="0.3" stroke="#000">−6</text>
<text x="275.30" y="303.30" font-size="10.1" text-anchor="middle" fill="#000" letter-spacing="0.85" stroke-width="0.3" stroke="#000">−3</text>
<text x="302.10" y="303.30" font-size="10.1" text-anchor="middle" fill="#000" letter-spacing="0.85" stroke-width="0.3" stroke="#000">0</text>
<defs>
<clipPath id="ca"><rect x="41.1" y="0.9" width="96.9" height="95.0"/></clipPath>
<clipPath id="cb"><rect x="41.1" y="98.8" width="96.9" height="95.00000000000001"/></clipPath>
<clipPath id="cc"><rect x="41.1" y="196.9" width="96.9" height="93.99999999999997"/></clipPath>
<clipPath id="cd"><rect x="204.3" y="1.8" width="97.0" height="93.9"/></clipPath>
<clipPath id="ce"><rect x="204.3" y="99.0" width="97.0" height="94.9"/></clipPath>
<clipPath id="cf"><rect x="204.3" y="196.8" width="97.0" height="94.0"/></clipPath>
</defs>
<g clip-path="url(#ca)">
<path d="M77.30,66.80 C77.80,66.55 79.35,66.02 80.30,65.30 C81.25,64.58 82.13,63.58 83.00,62.50 C83.87,61.42 84.63,60.22 85.50,58.80 C86.37,57.38 86.95,56.63 88.20,54.00 C89.45,51.37 91.43,46.75 93.00,43.00 C94.57,39.25 96.18,34.83 97.60,31.50 C99.02,28.17 100.27,25.58 101.50,23.00 C102.73,20.42 104.00,17.75 105.00,16.00 C106.00,14.25 106.77,13.20 107.50,12.50 C108.23,11.80 108.73,11.75 109.40,11.80 C110.07,11.85 110.73,11.90 111.50,12.80 C112.27,13.70 113.17,15.08 114.00,17.20 C114.83,19.32 115.75,22.53 116.50,25.50 C117.25,28.47 117.85,31.42 118.50,35.00 C119.15,38.58 119.92,42.87 120.40,47.00 C120.88,51.13 121.23,57.67 121.40,59.80" fill="none" stroke="#cc0000" stroke-width="0.9" stroke-linejoin="round" stroke-dasharray="3,2.2" clip-path="url(#ca)"/>
<path d="M77.60,72.30 C77.98,71.82 79.17,70.48 79.90,69.40 C80.63,68.32 81.25,66.95 82.00,65.80 C82.75,64.65 83.57,63.88 84.40,62.50 C85.23,61.12 85.73,60.17 87.00,57.50 C88.27,54.83 90.23,50.50 92.00,46.50 C93.77,42.50 96.02,37.08 97.60,33.50 C99.18,29.92 100.35,27.33 101.50,25.00 C102.65,22.67 103.62,20.97 104.50,19.50 C105.38,18.03 106.12,16.90 106.80,16.20 C107.48,15.50 107.90,15.40 108.60,15.30 C109.30,15.20 110.10,15.25 111.00,15.60 C111.90,15.95 113.00,15.75 114.00,17.40 C115.00,19.05 116.00,22.40 117.00,25.50 C118.00,28.60 119.17,33.08 120.00,36.00 C120.83,38.92 121.42,40.83 122.00,43.00 C122.58,45.17 123.05,46.28 123.50,49.00 C123.95,51.72 124.50,57.58 124.70,59.30" fill="none" stroke="#009933" stroke-width="0.9" stroke-linejoin="round" stroke-dasharray="3,2.2" clip-path="url(#ca)"/>
<path d="M83.00,62.50 C83.50,62.78 85.08,63.63 86.00,64.20 C86.92,64.77 87.58,65.18 88.50,65.90 C89.42,66.62 90.55,67.62 91.50,68.50 C92.45,69.38 93.28,70.28 94.20,71.20 C95.12,72.12 95.93,72.73 97.00,74.00 C98.07,75.27 100.00,78.00 100.60,78.80" fill="none" stroke="#111" stroke-width="0.9" stroke-linejoin="round" stroke-dasharray="3,2.2" clip-path="url(#ca)"/>
<path d="M109.00,76.00 C109.07,74.50 109.15,69.83 109.40,67.00 C109.65,64.17 109.98,62.58 110.50,59.00 C111.02,55.42 111.90,49.07 112.50,45.50 C113.10,41.93 113.57,40.08 114.10,37.60 C114.63,35.12 115.17,32.40 115.70,30.60 C116.23,28.80 116.82,27.15 117.30,26.80 C117.78,26.45 118.15,26.97 118.60,28.50 C119.05,30.03 119.52,32.92 120.00,36.00 C120.48,39.08 120.97,43.00 121.50,47.00 C122.03,51.00 122.70,55.33 123.20,60.00 C123.70,64.67 124.12,69.50 124.50,75.00 C124.88,80.50 125.33,90.00 125.50,93.00" fill="none" stroke="#111" stroke-width="0.9" stroke-linejoin="round" stroke-dasharray="3,2.2" clip-path="url(#ca)"/>
<polyline points="82.00,79.60 88.00,80.40 93.00,80.70 99.00,81.00 104.50,81.20 110.00,82.00 114.60,82.50 120.00,83.80 125.00,84.20 131.30,84.50" fill="none" stroke="#111" stroke-width="1.1" stroke-linejoin="round" />
<path d="M43.20,77.60 H47.40 M45.30,75.50 V79.70" stroke="#1a1a1a" stroke-width="0.8" fill="none"/>
<path d="M49.00,78.70 H53.20 M51.10,76.60 V80.80" stroke="#1a1a1a" stroke-width="0.8" fill="none"/>
<path d="M52.80,78.70 H57.00 M54.90,76.60 V80.80" stroke="#1a1a1a" stroke-width="0.8" fill="none"/>
<path d="M59.50,77.80 H63.70 M61.60,75.70 V79.90" stroke="#1a1a1a" stroke-width="0.8" fill="none"/>
<path d="M64.10,79.10 H68.30 M66.20,77.00 V81.20" stroke="#1a1a1a" stroke-width="0.8" fill="none"/>
<path d="M69.80,80.40 H74.00 M71.90,78.30 V82.50" stroke="#1a1a1a" stroke-width="0.8" fill="none"/>
<path d="M79.90,79.60 H84.10 M82.00,77.50 V81.70" stroke="#1a1a1a" stroke-width="0.8" fill="none"/>
<path d="M85.60,80.40 H89.80 M87.70,78.30 V82.50" stroke="#1a1a1a" stroke-width="0.8" fill="none"/>
<path d="M90.80,80.60 H95.00 M92.90,78.50 V82.70" stroke="#1a1a1a" stroke-width="0.8" fill="none"/>
<path d="M96.60,80.80 H100.80 M98.70,78.70 V82.90" stroke="#1a1a1a" stroke-width="0.8" fill="none"/>
<path d="M102.40,81.20 H106.60 M104.50,79.10 V83.30" stroke="#1a1a1a" stroke-width="0.8" fill="none"/>
<path d="M107.80,82.00 H112.00 M109.90,79.90 V84.10" stroke="#1a1a1a" stroke-width="0.8" fill="none"/>
<path d="M112.50,82.50 H116.70 M114.60,80.40 V84.60" stroke="#1a1a1a" stroke-width="0.8" fill="none"/>
<path d="M129.20,84.50 H133.40 M131.30,82.40 V86.60" stroke="#1a1a1a" stroke-width="0.8" fill="none"/>
<path d="M77.00,43.30 C77.93,43.58 80.87,44.42 82.60,45.00 C84.33,45.58 85.70,45.88 87.40,46.80 C89.10,47.72 91.08,49.13 92.80,50.50 C94.52,51.87 95.93,53.08 97.70,55.00 C99.47,56.92 101.68,59.42 103.40,62.00 C105.12,64.58 106.37,68.00 108.00,70.50 C109.63,73.00 111.53,75.33 113.20,77.00 C114.87,78.67 116.35,79.62 118.00,80.50 C119.65,81.38 121.77,81.88 123.10,82.30 C124.43,82.72 125.52,82.88 126.00,83.00" fill="none" stroke="#cc0000" stroke-width="1.1" stroke-linejoin="round"/>
<path d="M77.50,50.80 C78.42,50.93 81.25,51.23 83.00,51.60 C84.75,51.97 86.25,52.13 88.00,53.00 C89.75,53.87 91.78,55.50 93.50,56.80 C95.22,58.10 96.62,59.10 98.30,60.80 C99.98,62.50 101.95,64.80 103.60,67.00 C105.25,69.20 106.57,71.87 108.20,74.00 C109.83,76.13 111.77,78.38 113.40,79.80 C115.03,81.22 116.23,81.80 118.00,82.50 C119.77,83.20 122.42,83.67 124.00,84.00 C125.58,84.33 126.92,84.42 127.50,84.50" fill="none" stroke="#009933" stroke-width="1.1" stroke-linejoin="round"/>
<path d="M39.50,44.00 L41.80,40.00 L44.10,44.00 Z" fill="none" stroke="#009933" stroke-width="1.1"/>
<path d="M44.90,48.60 L47.20,44.60 L49.50,48.60 Z" fill="none" stroke="#009933" stroke-width="1.1"/>
<path d="M49.80,48.70 L52.10,44.70 L54.40,48.70 Z" fill="none" stroke="#009933" stroke-width="1.1"/>
<path d="M55.10,43.80 L57.40,39.80 L59.70,43.80 Z" fill="none" stroke="#009933" stroke-width="1.1"/>
<path d="M60.00,49.20 L62.30,45.20 L64.60,49.20 Z" fill="none" stroke="#009933" stroke-width="1.1"/>
<path d="M65.20,52.20 L67.50,48.20 L69.80,52.20 Z" fill="none" stroke="#009933" stroke-width="1.1"/>
<path d="M75.20,53.60 L77.50,49.60 L79.80,53.60 Z" fill="none" stroke="#009933" stroke-width="1.1"/>
<path d="M80.90,53.60 L83.20,49.60 L85.50,53.60 Z" fill="none" stroke="#009933" stroke-width="1.1"/>
<path d="M85.50,54.40 L87.80,50.40 L90.10,54.40 Z" fill="none" stroke="#009933" stroke-width="1.1"/>
<path d="M91.20,59.60 L93.50,55.60 L95.80,59.60 Z" fill="none" stroke="#009933" stroke-width="1.1"/>
<path d="M96.00,61.90 L98.30,57.90 L100.60,61.90 Z" fill="none" stroke="#009933" stroke-width="1.1"/>
<path d="M101.30,69.50 L103.60,65.50 L105.90,69.50 Z" fill="none" stroke="#009933" stroke-width="1.1"/>
<path d="M105.90,76.70 L108.20,72.70 L110.50,76.70 Z" fill="none" stroke="#009933" stroke-width="1.1"/>
<path d="M111.10,83.00 L113.40,79.00 L115.70,83.00 Z" fill="none" stroke="#009933" stroke-width="1.1"/>
<path d="M123.20,85.90 L125.50,81.90 L127.80,85.90 Z" fill="none" stroke="#009933" stroke-width="1.1"/>
<circle cx="41.50" cy="36.40" r="2.25" fill="#c00000"/>
<circle cx="46.90" cy="39.50" r="2.25" fill="#c00000"/>
<circle cx="51.30" cy="38.40" r="2.25" fill="#c00000"/>
<circle cx="56.80" cy="32.90" r="2.25" fill="#c00000"/>
<circle cx="61.50" cy="40.30" r="2.25" fill="#c00000"/>
<circle cx="66.90" cy="42.60" r="2.25" fill="#c00000"/>
<circle cx="77.00" cy="43.60" r="2.25" fill="#c00000"/>
<circle cx="82.60" cy="45.30" r="2.25" fill="#c00000"/>
<circle cx="87.40" cy="46.50" r="2.25" fill="#c00000"/>
<circle cx="92.80" cy="51.20" r="2.25" fill="#c00000"/>
<circle cx="97.70" cy="54.50" r="2.25" fill="#c00000"/>
<circle cx="103.50" cy="61.70" r="2.25" fill="#c00000"/>
<circle cx="108.00" cy="71.40" r="2.25" fill="#c00000"/>
<circle cx="113.20" cy="77.40" r="2.25" fill="#c00000"/>
<circle cx="123.00" cy="81.90" r="2.25" fill="#c00000"/>
<path d="M115.50,17.70 H128.70" stroke="#d85050" stroke-width="1.5" fill="none"/>
<path d="M127.80,15.70 L133.20,17.70 L127.80,19.70 L129.00,17.70 Z" fill="#cc0000" stroke="#cc0000" stroke-width="0.35"/>
<line x1="51.20" y1="88.20" x2="65.10" y2="88.20" stroke="#444" stroke-width="1.3" />
<path d="M47.20,88.20 L52.80,86.30 L51.60,88.20 L52.80,90.10 Z" fill="#222" stroke="#222" stroke-width="0.5"/>
</g>
<g clip-path="url(#cb)">
<line x1="40.6" y1="130.3" x2="138.5" y2="130.3" stroke="#777" stroke-width="0.8" stroke-dasharray="1,1.6"/>
<line x1="45.00" y1="128.90" x2="45.00" y2="138.10" stroke="#333" stroke-width="0.75" />
<path d="M43.10,133.50 H46.90 M45.00,131.60 V135.40" stroke="#1a1a1a" stroke-width="0.8" fill="none"/>
<line x1="51.00" y1="129.60" x2="51.00" y2="138.80" stroke="#333" stroke-width="0.75" />
<path d="M49.10,134.20 H52.90 M51.00,132.30 V136.10" stroke="#1a1a1a" stroke-width="0.8" fill="none"/>
<line x1="55.50" y1="126.60" x2="55.50" y2="135.80" stroke="#333" stroke-width="0.75" />
<path d="M53.60,131.20 H57.40 M55.50,129.30 V133.10" stroke="#1a1a1a" stroke-width="0.8" fill="none"/>
<line x1="61.00" y1="128.40" x2="61.00" y2="137.60" stroke="#333" stroke-width="0.75" />
<path d="M59.10,133.00 H62.90 M61.00,131.10 V134.90" stroke="#1a1a1a" stroke-width="0.8" fill="none"/>
<line x1="66.30" y1="128.40" x2="66.30" y2="137.60" stroke="#333" stroke-width="0.75" />
<path d="M64.40,133.00 H68.20 M66.30,131.10 V134.90" stroke="#1a1a1a" stroke-width="0.8" fill="none"/>
<line x1="71.60" y1="127.60" x2="71.60" y2="136.80" stroke="#333" stroke-width="0.75" />
<path d="M69.70,132.20 H73.50 M71.60,130.30 V134.10" stroke="#1a1a1a" stroke-width="0.8" fill="none"/>
<line x1="77.20" y1="127.60" x2="77.20" y2="136.80" stroke="#333" stroke-width="0.75" />
<path d="M75.30,132.20 H79.10 M77.20,130.30 V134.10" stroke="#1a1a1a" stroke-width="0.8" fill="none"/>
<line x1="82.50" y1="127.70" x2="82.50" y2="136.90" stroke="#333" stroke-width="0.75" />
<path d="M80.60,132.30 H84.40 M82.50,130.40 V134.20" stroke="#1a1a1a" stroke-width="0.8" fill="none"/>
<line x1="88.20" y1="127.40" x2="88.20" y2="136.60" stroke="#333" stroke-width="0.75" />
<path d="M86.30,132.00 H90.10 M88.20,130.10 V133.90" stroke="#1a1a1a" stroke-width="0.8" fill="none"/>
<line x1="93.50" y1="127.40" x2="93.50" y2="136.60" stroke="#333" stroke-width="0.75" />
<path d="M91.60,132.00 H95.40 M93.50,130.10 V133.90" stroke="#1a1a1a" stroke-width="0.8" fill="none"/>
<line x1="98.90" y1="127.40" x2="98.90" y2="136.60" stroke="#333" stroke-width="0.75" />
<path d="M97.00,132.00 H100.80 M98.90,130.10 V133.90" stroke="#1a1a1a" stroke-width="0.8" fill="none"/>
<line x1="104.50" y1="127.60" x2="104.50" y2="136.80" stroke="#333" stroke-width="0.75" />
<path d="M102.60,132.20 H106.40 M104.50,130.30 V134.10" stroke="#1a1a1a" stroke-width="0.8" fill="none"/>
<line x1="110.20" y1="127.90" x2="110.20" y2="137.10" stroke="#333" stroke-width="0.75" />
<path d="M108.30,132.50 H112.10 M110.20,130.60 V134.40" stroke="#1a1a1a" stroke-width="0.8" fill="none"/>
<line x1="115.00" y1="127.40" x2="115.00" y2="136.60" stroke="#333" stroke-width="0.75" />
<path d="M113.10,132.00 H116.90 M115.00,130.10 V133.90" stroke="#1a1a1a" stroke-width="0.8" fill="none"/>
<line x1="119.90" y1="127.40" x2="119.90" y2="136.60" stroke="#333" stroke-width="0.75" />
<path d="M118.00,132.00 H121.80 M119.90,130.10 V133.90" stroke="#1a1a1a" stroke-width="0.8" fill="none"/>
<line x1="125.50" y1="127.40" x2="125.50" y2="136.60" stroke="#333" stroke-width="0.75" />
<path d="M123.60,132.00 H127.40 M125.50,130.10 V133.90" stroke="#1a1a1a" stroke-width="0.8" fill="none"/>
<line x1="130.80" y1="127.40" x2="130.80" y2="136.60" stroke="#333" stroke-width="0.75" />
<path d="M128.90,132.00 H132.70 M130.80,130.10 V133.90" stroke="#1a1a1a" stroke-width="0.8" fill="none"/>
<polyline points="79.00,132.20 131.00,132.00" fill="none" stroke="#111" stroke-width="1.1" stroke-linejoin="round" />
<line x1="42.60" y1="125.00" x2="42.60" y2="138.00" stroke="#009933" stroke-width="0.9" />
<line x1="47.50" y1="122.00" x2="47.50" y2="135.00" stroke="#009933" stroke-width="0.9" />
<line x1="52.30" y1="121.00" x2="52.30" y2="134.00" stroke="#009933" stroke-width="0.9" />
<line x1="57.50" y1="120.00" x2="57.50" y2="133.00" stroke="#009933" stroke-width="0.9" />
<line x1="62.30" y1="125.00" x2="62.30" y2="138.00" stroke="#009933" stroke-width="0.9" />
<line x1="67.60" y1="123.00" x2="67.60" y2="136.00" stroke="#009933" stroke-width="0.9" />
<line x1="77.80" y1="124.50" x2="77.80" y2="137.50" stroke="#009933" stroke-width="0.9" />
<line x1="83.50" y1="129.50" x2="83.50" y2="142.50" stroke="#009933" stroke-width="0.9" />
<line x1="88.50" y1="131.50" x2="88.50" y2="144.50" stroke="#009933" stroke-width="0.9" />
<line x1="93.80" y1="134.50" x2="93.80" y2="147.50" stroke="#009933" stroke-width="0.9" />
<line x1="98.90" y1="138.20" x2="98.90" y2="151.20" stroke="#009933" stroke-width="0.9" />
<line x1="104.20" y1="146.00" x2="104.20" y2="159.00" stroke="#009933" stroke-width="0.9" />
<line x1="109.70" y1="153.20" x2="109.70" y2="166.20" stroke="#009933" stroke-width="0.9" />
<line x1="114.00" y1="147.30" x2="114.00" y2="160.30" stroke="#009933" stroke-width="0.9" />
<line x1="119.00" y1="134.50" x2="119.00" y2="147.50" stroke="#009933" stroke-width="0.9" />
<line x1="124.50" y1="123.00" x2="124.50" y2="136.00" stroke="#009933" stroke-width="0.9" />
<path d="M76.00,130.50 C77.00,131.00 80.00,132.42 82.00,133.50 C84.00,134.58 86.08,135.83 88.00,137.00 C89.92,138.17 91.67,139.08 93.50,140.50 C95.33,141.92 97.22,143.50 99.00,145.50 C100.78,147.50 102.78,150.42 104.20,152.50 C105.62,154.58 106.58,156.70 107.50,158.00 C108.42,159.30 108.95,160.30 109.70,160.30 C110.45,160.30 111.25,159.22 112.00,158.00 C112.75,156.78 113.12,155.67 114.20,153.00 C115.28,150.33 117.20,145.17 118.50,142.00 C119.80,138.83 120.83,136.25 122.00,134.00 C123.17,131.75 124.92,129.42 125.50,128.50" fill="none" stroke="#009933" stroke-width="1.1" stroke-linejoin="round"/>
<path d="M40.70,133.15 L42.60,129.85 L44.50,133.15 Z" fill="none" stroke="#009933" stroke-width="1.1"/>
<path d="M45.60,130.15 L47.50,126.85 L49.40,130.15 Z" fill="none" stroke="#009933" stroke-width="1.1"/>
<path d="M50.40,129.15 L52.30,125.85 L54.20,129.15 Z" fill="none" stroke="#009933" stroke-width="1.1"/>
<path d="M55.60,128.15 L57.50,124.85 L59.40,128.15 Z" fill="none" stroke="#009933" stroke-width="1.1"/>
<path d="M60.40,133.15 L62.30,129.85 L64.20,133.15 Z" fill="none" stroke="#009933" stroke-width="1.1"/>
<path d="M65.70,131.15 L67.60,127.85 L69.50,131.15 Z" fill="none" stroke="#009933" stroke-width="1.1"/>
<path d="M75.90,132.65 L77.80,129.35 L79.70,132.65 Z" fill="none" stroke="#009933" stroke-width="1.1"/>
<path d="M81.60,137.65 L83.50,134.35 L85.40,137.65 Z" fill="none" stroke="#009933" stroke-width="1.1"/>
<path d="M86.60,139.65 L88.50,136.35 L90.40,139.65 Z" fill="none" stroke="#009933" stroke-width="1.1"/>
<path d="M91.90,142.65 L93.80,139.35 L95.70,142.65 Z" fill="none" stroke="#009933" stroke-width="1.1"/>
<path d="M97.00,146.35 L98.90,143.05 L100.80,146.35 Z" fill="none" stroke="#009933" stroke-width="1.1"/>
<path d="M102.30,154.15 L104.20,150.85 L106.10,154.15 Z" fill="none" stroke="#009933" stroke-width="1.1"/>
<path d="M107.80,161.35 L109.70,158.05 L111.60,161.35 Z" fill="none" stroke="#009933" stroke-width="1.1"/>
<path d="M112.10,155.45 L114.00,152.15 L115.90,155.45 Z" fill="none" stroke="#009933" stroke-width="1.1"/>
<path d="M117.10,142.65 L119.00,139.35 L120.90,142.65 Z" fill="none" stroke="#009933" stroke-width="1.1"/>
<path d="M122.60,131.15 L124.50,127.85 L126.40,131.15 Z" fill="none" stroke="#009933" stroke-width="1.1"/>
<line x1="41.50" y1="122.50" x2="41.50" y2="134.50" stroke="#cc0000" stroke-width="0.9" />
<line x1="46.80" y1="119.50" x2="46.80" y2="131.50" stroke="#cc0000" stroke-width="0.9" />
<line x1="51.20" y1="119.50" x2="51.20" y2="131.50" stroke="#cc0000" stroke-width="0.9" />
<line x1="56.50" y1="117.50" x2="56.50" y2="129.50" stroke="#cc0000" stroke-width="0.9" />
<line x1="61.60" y1="123.60" x2="61.60" y2="135.60" stroke="#cc0000" stroke-width="0.9" />
<line x1="66.80" y1="120.80" x2="66.80" y2="132.80" stroke="#cc0000" stroke-width="0.9" />
<line x1="77.20" y1="123.60" x2="77.20" y2="135.60" stroke="#cc0000" stroke-width="0.9" />
<line x1="82.80" y1="134.30" x2="82.80" y2="146.30" stroke="#cc0000" stroke-width="0.9" />
<line x1="87.90" y1="130.80" x2="87.90" y2="142.80" stroke="#cc0000" stroke-width="0.9" />
<line x1="93.20" y1="135.60" x2="93.20" y2="147.60" stroke="#cc0000" stroke-width="0.9" />
<line x1="97.60" y1="143.50" x2="97.60" y2="155.50" stroke="#cc0000" stroke-width="0.9" />
<line x1="103.10" y1="156.10" x2="103.10" y2="168.10" stroke="#cc0000" stroke-width="0.9" />
<line x1="108.00" y1="174.80" x2="108.00" y2="186.80" stroke="#cc0000" stroke-width="0.9" />
<line x1="112.90" y1="165.90" x2="112.90" y2="177.90" stroke="#cc0000" stroke-width="0.9" />
<line x1="123.10" y1="127.90" x2="123.10" y2="139.90" stroke="#cc0000" stroke-width="0.9" />
<path d="M77.00,130.00 C77.83,130.67 80.33,132.73 82.00,134.00 C83.67,135.27 85.25,136.30 87.00,137.60 C88.75,138.90 90.73,139.98 92.50,141.80 C94.27,143.62 96.18,146.13 97.60,148.50 C99.02,150.87 100.02,153.50 101.00,156.00 C101.98,158.50 102.73,160.83 103.50,163.50 C104.27,166.17 104.97,169.25 105.60,172.00 C106.23,174.75 106.77,178.23 107.30,180.00 C107.83,181.77 108.27,182.60 108.80,182.60 C109.33,182.60 109.82,181.68 110.50,180.00 C111.18,178.32 112.12,175.17 112.90,172.50 C113.68,169.83 114.43,166.92 115.20,164.00 C115.97,161.08 116.70,158.00 117.50,155.00 C118.30,152.00 119.22,148.67 120.00,146.00 C120.78,143.33 121.48,141.25 122.20,139.00 C122.92,136.75 123.75,134.08 124.30,132.50 C124.85,130.92 125.30,130.00 125.50,129.50" fill="none" stroke="#cc0000" stroke-width="1.0" stroke-linejoin="round"/>
<circle cx="41.50" cy="128.50" r="2.25" fill="#c00000"/>
<circle cx="46.80" cy="125.50" r="2.25" fill="#c00000"/>
<circle cx="51.20" cy="125.50" r="2.25" fill="#c00000"/>
<circle cx="56.50" cy="123.50" r="2.25" fill="#c00000"/>
<circle cx="61.60" cy="129.60" r="2.25" fill="#c00000"/>
<circle cx="66.80" cy="126.80" r="2.25" fill="#c00000"/>
<circle cx="77.20" cy="129.60" r="2.25" fill="#c00000"/>
<circle cx="82.80" cy="140.30" r="2.25" fill="#c00000"/>
<circle cx="87.90" cy="136.80" r="2.25" fill="#c00000"/>
<circle cx="93.20" cy="141.60" r="2.25" fill="#c00000"/>
<circle cx="97.60" cy="149.50" r="2.25" fill="#c00000"/>
<circle cx="103.10" cy="162.10" r="2.25" fill="#c00000"/>
<circle cx="108.00" cy="180.80" r="2.25" fill="#c00000"/>
<circle cx="112.90" cy="171.90" r="2.25" fill="#c00000"/>
<circle cx="123.10" cy="133.90" r="2.25" fill="#c00000"/>
</g>
<g clip-path="url(#cc)">
<line x1="40.6" y1="275.6" x2="138.5" y2="275.6" stroke="#777" stroke-width="0.8" stroke-dasharray="1,1.6"/>
<polyline points="76.70,275.60 96.00,275.60 96.83,275.58 97.17,275.57 97.50,275.56 97.83,275.53 98.17,275.50 98.50,275.45 98.83,275.39 99.17,275.29 99.50,275.16 99.83,274.98 100.17,274.74 100.50,274.43 100.83,274.01 101.17,273.47 101.50,272.77 101.83,271.91 102.17,270.83 102.50,269.52 102.83,267.94 103.17,266.07 103.50,263.88 103.83,261.38 104.17,258.55 104.50,255.41 104.83,251.98 105.17,248.31 105.50,244.45 105.83,240.49 106.17,236.51 106.50,232.61 106.83,228.90 107.17,225.50 107.50,222.51 107.83,220.03 108.17,218.14 108.50,216.92 108.83,216.41 109.17,216.63 109.50,217.57 109.83,219.20 110.17,221.45 110.50,224.25 110.83,227.50 111.17,231.10 111.50,234.94 111.83,238.90 112.17,242.88 112.50,246.78 113.60,257.50 115.50,264.80 117.90,269.60 120.50,272.50 123.00,274.20" fill="none" stroke="#d01010" stroke-width="0.9" stroke-linejoin="round" />
<polyline points="98.80,275.60 101.00,274.80 103.50,272.30 106.00,267.80 108.20,262.60 110.20,259.40 112.00,262.00 114.40,265.60 117.00,268.10 120.00,270.00 123.90,271.90" fill="none" stroke="#009933" stroke-width="0.9" stroke-linejoin="round" />
<path d="M108.70,261.50 L110.20,258.89 L111.70,261.50 Z" fill="none" stroke="#009933" stroke-width="0.9"/>
<circle cx="108.90" cy="216.60" r="2.25" fill="#c00000"/>
<line x1="110.70" y1="273.50" x2="110.70" y2="278.00" stroke="#333" stroke-width="0.8" />
<line x1="109.40" y1="275.70" x2="112.00" y2="275.70" stroke="#333" stroke-width="0.8" />
</g>
<g clip-path="url(#cd)">
<polyline points="204.00,62.40 219.40,65.60 238.10,71.00 253.00,75.60 270.00,82.30 295.00,93.20 301.00,95.30" fill="none" stroke="#009933" stroke-width="1.0" stroke-linejoin="round" />
<polyline points="204.00,61.20 219.40,64.00 238.10,69.60 253.00,74.80 270.00,81.80 295.00,92.60 301.00,94.80" fill="none" stroke="#cc0000" stroke-width="1.0" stroke-linejoin="round" />
<polyline points="204.00,80.60 253.00,87.40 292.00,94.30 301.00,95.50" fill="none" stroke="#222" stroke-width="1.0" stroke-linejoin="round" />
<rect x="218.20" y="65.70" width="3.0" height="3.0" fill="none" stroke="#009933" stroke-width="0.95"/>
<rect x="236.90" y="70.70" width="3.0" height="3.0" fill="none" stroke="#009933" stroke-width="0.95"/>
<rect x="254.90" y="75.90" width="3.0" height="3.0" fill="none" stroke="#009933" stroke-width="0.95"/>
<rect x="277.20" y="80.40" width="3.0" height="3.0" fill="none" stroke="#009933" stroke-width="0.95"/>
<circle cx="219.40" cy="64.00" r="2.25" fill="#c00000"/>
<circle cx="238.10" cy="69.60" r="2.25" fill="#c00000"/>
<circle cx="253.80" cy="73.60" r="2.25" fill="#c00000"/>
<circle cx="257.80" cy="75.60" r="2.25" fill="#c00000"/>
<circle cx="276.70" cy="79.20" r="2.25" fill="#c00000"/>
<circle cx="279.80" cy="77.80" r="2.25" fill="#c00000"/>
<circle cx="295.30" cy="91.30" r="2.25" fill="#c00000"/>
<circle cx="297.40" cy="92.70" r="2.25" fill="#c00000"/>
<circle cx="299.40" cy="93.80" r="2.25" fill="#c00000"/>
<line x1="279.60" y1="69.00" x2="279.60" y2="86.50" stroke="#cc0000" stroke-width="0.9" />
<path d="M203.60,81.00 L205.70,79.53 L207.80,81.00 L205.70,82.47 Z" fill="#000"/>
<path d="M224.50,83.40 L226.60,81.93 L228.70,83.40 L226.60,84.87 Z" fill="#000"/>
<path d="M244.20,85.60 L246.30,84.13 L248.40,85.60 L246.30,87.07 Z" fill="#000"/>
<path d="M269.60,92.30 L271.70,90.83 L273.80,92.30 L271.70,93.77 Z" fill="#000"/>
<line x1="243.30" y1="78.20" x2="243.30" y2="87.20" stroke="#111" stroke-width="0.8" />
<rect x="241.80" y="81.50" width="3.0" height="3.0" fill="#fff" stroke="#111" stroke-width="0.8"/>
<line x1="241.50" y1="83.00" x2="245.10" y2="83.00" stroke="#111" stroke-width="0.8" />
<line x1="243.30" y1="81.00" x2="243.30" y2="85.00" stroke="#111" stroke-width="0.8" />
<line x1="265.50" y1="86.60" x2="265.50" y2="95.40" stroke="#111" stroke-width="0.9" />
<path d="M263.70,90.50 H267.30 M265.50,88.70 V92.30" stroke="#1a1a1a" stroke-width="0.8" fill="none"/>
<line x1="271.70" y1="89.80" x2="271.70" y2="95.40" stroke="#111" stroke-width="0.9" />
<path d="M290.90,94.40 H294.50 M292.70,92.60 V96.20" stroke="#1a1a1a" stroke-width="0.8" fill="none"/>
</g>
<g clip-path="url(#ce)">
<path d="M250.60,140.00 C250.80,139.17 251.15,136.75 251.80,135.00 C252.45,133.25 253.38,131.58 254.50,129.50 C255.62,127.42 257.17,124.75 258.50,122.50 C259.83,120.25 261.25,117.58 262.50,116.00 C263.75,114.42 264.92,113.63 266.00,113.00 C267.08,112.37 268.00,112.20 269.00,112.20 C270.00,112.20 271.00,112.47 272.00,113.00 C273.00,113.53 273.83,114.32 275.00,115.40 C276.17,116.48 278.33,118.82 279.00,119.50" fill="none" stroke="#cc0000" stroke-width="0.9" stroke-linejoin="round" stroke-dasharray="3,2.2" clip-path="url(#ce)"/>
<path d="M247.90,172.00 C247.97,171.17 247.88,170.55 248.30,167.00 C248.72,163.45 249.62,154.87 250.40,150.70 C251.18,146.53 252.15,144.42 253.00,142.00 C253.85,139.58 254.83,138.20 255.50,136.20 C256.17,134.20 256.33,132.28 257.00,130.00 C257.67,127.72 258.58,124.67 259.50,122.50 C260.42,120.33 261.50,118.37 262.50,117.00 C263.50,115.63 264.62,114.83 265.50,114.30 C266.38,113.77 266.97,113.52 267.80,113.80 C268.63,114.08 269.63,114.88 270.50,116.00 C271.37,117.12 272.08,119.20 273.00,120.50 C273.92,121.80 275.07,122.75 276.00,123.80 C276.93,124.85 278.17,126.30 278.60,126.80" fill="none" stroke="#009933" stroke-width="0.9" stroke-linejoin="round" stroke-dasharray="3,2.2" clip-path="url(#ce)"/>
<path d="M252.20,194.00 C252.23,193.00 252.18,191.77 252.40,188.00 C252.62,184.23 252.98,176.57 253.50,171.40 C254.02,166.23 254.82,162.00 255.50,157.00 C256.18,152.00 256.77,145.15 257.60,141.40 C258.43,137.65 259.60,136.15 260.50,134.50 C261.40,132.85 262.33,132.15 263.00,131.50 C263.67,130.85 263.83,130.43 264.50,130.60 C265.17,130.77 266.08,131.43 267.00,132.50 C267.92,133.57 268.88,135.37 270.00,137.00 C271.12,138.63 272.62,141.33 273.70,142.30 C274.78,143.27 275.62,142.93 276.50,142.80 C277.38,142.67 278.58,141.72 279.00,141.50" fill="none" stroke="#111" stroke-width="0.9" stroke-linejoin="round" stroke-dasharray="3,2.2" clip-path="url(#ce)"/>
<path d="M279.40,115.00 H291.70" stroke="#d85050" stroke-width="1.5" fill="none"/>
<path d="M290.80,113.00 L296.20,115.00 L290.80,117.00 L292.00,115.00 Z" fill="#cc0000" stroke="#cc0000" stroke-width="0.35"/>
<polyline points="205.90,178.30 209.90,177.00 213.70,175.30 217.30,175.20 220.60,176.50 224.50,178.20 228.30,178.30 231.80,178.00 235.50,176.90 239.10,176.20 243.00,175.70 246.60,175.60 250.50,175.60 254.50,176.20 258.50,177.60 262.50,179.00 266.50,180.60 270.50,182.00 274.50,183.40 278.50,184.60 282.50,185.80 286.50,186.80 290.50,187.60 294.50,188.20 298.20,188.80" fill="none" stroke="#222" stroke-width="0.9" stroke-linejoin="round" />
<path d="M204.00,178.30 H207.80 M205.90,175.80 V180.80" stroke="#1a1a1a" stroke-width="0.8" fill="none"/>
<path d="M208.00,177.00 H211.80 M209.90,174.50 V179.50" stroke="#1a1a1a" stroke-width="0.8" fill="none"/>
<path d="M211.80,175.30 H215.60 M213.70,172.80 V177.80" stroke="#1a1a1a" stroke-width="0.8" fill="none"/>
<path d="M215.40,175.20 H219.20 M217.30,172.70 V177.70" stroke="#1a1a1a" stroke-width="0.8" fill="none"/>
<path d="M218.70,176.50 H222.50 M220.60,174.00 V179.00" stroke="#1a1a1a" stroke-width="0.8" fill="none"/>
<path d="M222.60,178.20 H226.40 M224.50,175.70 V180.70" stroke="#1a1a1a" stroke-width="0.8" fill="none"/>
<path d="M226.40,178.30 H230.20 M228.30,175.80 V180.80" stroke="#1a1a1a" stroke-width="0.8" fill="none"/>
<path d="M229.90,178.00 H233.70 M231.80,175.50 V180.50" stroke="#1a1a1a" stroke-width="0.8" fill="none"/>
<path d="M233.60,176.90 H237.40 M235.50,174.40 V179.40" stroke="#1a1a1a" stroke-width="0.8" fill="none"/>
<path d="M237.20,176.20 H241.00 M239.10,173.70 V178.70" stroke="#1a1a1a" stroke-width="0.8" fill="none"/>
<path d="M241.10,175.70 H244.90 M243.00,173.20 V178.20" stroke="#1a1a1a" stroke-width="0.8" fill="none"/>
<path d="M244.70,175.60 H248.50 M246.60,173.10 V178.10" stroke="#1a1a1a" stroke-width="0.8" fill="none"/>
<path d="M248.60,175.60 H252.40 M250.50,173.10 V178.10" stroke="#1a1a1a" stroke-width="0.8" fill="none"/>
<path d="M252.60,176.20 H256.40 M254.50,173.70 V178.70" stroke="#1a1a1a" stroke-width="0.8" fill="none"/>
<path d="M256.60,177.60 H260.40 M258.50,175.10 V180.10" stroke="#1a1a1a" stroke-width="0.8" fill="none"/>
<path d="M260.60,179.00 H264.40 M262.50,176.50 V181.50" stroke="#1a1a1a" stroke-width="0.8" fill="none"/>
<path d="M264.60,180.60 H268.40 M266.50,178.10 V183.10" stroke="#1a1a1a" stroke-width="0.8" fill="none"/>
<path d="M268.60,182.00 H272.40 M270.50,179.50 V184.50" stroke="#1a1a1a" stroke-width="0.8" fill="none"/>
<path d="M272.60,183.40 H276.40 M274.50,180.90 V185.90" stroke="#1a1a1a" stroke-width="0.8" fill="none"/>
<path d="M276.60,184.60 H280.40 M278.50,182.10 V187.10" stroke="#1a1a1a" stroke-width="0.8" fill="none"/>
<path d="M280.60,185.80 H284.40 M282.50,183.30 V188.30" stroke="#1a1a1a" stroke-width="0.8" fill="none"/>
<path d="M284.60,186.80 H288.40 M286.50,184.30 V189.30" stroke="#1a1a1a" stroke-width="0.8" fill="none"/>
<path d="M288.60,187.60 H292.40 M290.50,185.10 V190.10" stroke="#1a1a1a" stroke-width="0.8" fill="none"/>
<path d="M292.60,188.20 H296.40 M294.50,185.70 V190.70" stroke="#1a1a1a" stroke-width="0.8" fill="none"/>
<path d="M296.30,188.80 H300.10 M298.20,186.30 V191.30" stroke="#1a1a1a" stroke-width="0.8" fill="none"/>
<polyline points="228.00,154.10 231.60,149.90 235.10,148.50 238.70,151.70 241.70,154.70 245.30,155.30 248.60,153.30 251.90,153.30 254.90,155.90 258.60,159.50 262.00,164.00 265.50,169.10 269.10,173.60 272.30,176.80 276.00,179.60 279.50,182.00 283.00,184.20 286.50,186.00 290.00,187.20 293.60,188.30" fill="none" stroke="#009933" stroke-width="1.0" stroke-linejoin="round" />
<path d="M226.05,155.80 L228.00,152.40 L229.95,155.80 Z" fill="none" stroke="#009933" stroke-width="1.1"/>
<path d="M229.65,151.60 L231.60,148.20 L233.55,151.60 Z" fill="none" stroke="#009933" stroke-width="1.1"/>
<path d="M233.15,150.20 L235.10,146.80 L237.05,150.20 Z" fill="none" stroke="#009933" stroke-width="1.1"/>
<path d="M236.75,153.40 L238.70,150.00 L240.65,153.40 Z" fill="none" stroke="#009933" stroke-width="1.1"/>
<path d="M239.75,156.40 L241.70,153.00 L243.65,156.40 Z" fill="none" stroke="#009933" stroke-width="1.1"/>
<path d="M243.35,157.00 L245.30,153.60 L247.25,157.00 Z" fill="none" stroke="#009933" stroke-width="1.1"/>
<path d="M246.65,155.00 L248.60,151.60 L250.55,155.00 Z" fill="none" stroke="#009933" stroke-width="1.1"/>
<path d="M249.95,155.00 L251.90,151.60 L253.85,155.00 Z" fill="none" stroke="#009933" stroke-width="1.1"/>
<path d="M252.95,157.60 L254.90,154.20 L256.85,157.60 Z" fill="none" stroke="#009933" stroke-width="1.1"/>
<path d="M256.65,161.20 L258.60,157.80 L260.55,161.20 Z" fill="none" stroke="#009933" stroke-width="1.1"/>
<path d="M260.05,165.70 L262.00,162.30 L263.95,165.70 Z" fill="none" stroke="#009933" stroke-width="1.1"/>
<path d="M263.55,170.80 L265.50,167.40 L267.45,170.80 Z" fill="none" stroke="#009933" stroke-width="1.1"/>
<path d="M267.15,175.30 L269.10,171.90 L271.05,175.30 Z" fill="none" stroke="#009933" stroke-width="1.1"/>
<path d="M270.35,178.50 L272.30,175.10 L274.25,178.50 Z" fill="none" stroke="#009933" stroke-width="1.1"/>
<path d="M274.05,181.30 L276.00,177.90 L277.95,181.30 Z" fill="none" stroke="#009933" stroke-width="1.1"/>
<path d="M277.55,183.70 L279.50,180.30 L281.45,183.70 Z" fill="none" stroke="#009933" stroke-width="1.1"/>
<path d="M281.05,185.90 L283.00,182.50 L284.95,185.90 Z" fill="none" stroke="#009933" stroke-width="1.1"/>
<path d="M284.55,187.70 L286.50,184.30 L288.45,187.70 Z" fill="none" stroke="#009933" stroke-width="1.1"/>
<path d="M288.05,188.90 L290.00,185.50 L291.95,188.90 Z" fill="none" stroke="#009933" stroke-width="1.1"/>
<path d="M291.65,190.00 L293.60,186.60 L295.55,190.00 Z" fill="none" stroke="#009933" stroke-width="1.1"/>
<polyline points="231.00,139.40 235.10,138.00 238.40,139.80 241.70,142.10 245.10,143.00 248.60,143.70 252.20,145.70 255.80,149.50 259.10,154.50 262.70,160.00 266.00,165.50 269.60,170.50 272.70,174.20 276.40,177.80 279.50,180.50 283.10,183.30 286.40,185.50 289.60,187.30 293.10,188.70" fill="none" stroke="#c00000" stroke-width="1.0" stroke-linejoin="round" />
<circle cx="231.00" cy="139.40" r="2.25" fill="#c00000"/>
<circle cx="235.10" cy="138.00" r="2.25" fill="#c00000"/>
<circle cx="238.40" cy="139.80" r="2.25" fill="#c00000"/>
<circle cx="241.70" cy="142.10" r="2.25" fill="#c00000"/>
<circle cx="245.10" cy="143.00" r="2.25" fill="#c00000"/>
<circle cx="248.60" cy="143.70" r="2.25" fill="#c00000"/>
<circle cx="252.20" cy="145.70" r="2.25" fill="#c00000"/>
<circle cx="255.80" cy="149.50" r="2.25" fill="#c00000"/>
<circle cx="259.10" cy="154.50" r="2.25" fill="#c00000"/>
<circle cx="262.70" cy="160.00" r="2.25" fill="#c00000"/>
<circle cx="266.00" cy="165.50" r="2.25" fill="#c00000"/>
<circle cx="269.60" cy="170.50" r="2.25" fill="#c00000"/>
<circle cx="272.70" cy="174.20" r="2.25" fill="#c00000"/>
<circle cx="276.40" cy="177.80" r="2.25" fill="#c00000"/>
<circle cx="279.50" cy="180.50" r="2.25" fill="#c00000"/>
<circle cx="283.10" cy="183.30" r="2.25" fill="#c00000"/>
<circle cx="286.40" cy="185.50" r="2.25" fill="#c00000"/>
<circle cx="289.60" cy="187.30" r="2.25" fill="#c00000"/>
<circle cx="293.10" cy="188.70" r="2.25" fill="#c00000"/>
</g>
<g clip-path="url(#cf)">
<path d="M250.20,244.50 C250.58,243.58 251.70,240.87 252.50,239.00 C253.30,237.13 254.08,235.38 255.00,233.30 C255.92,231.22 257.00,228.77 258.00,226.50 C259.00,224.23 260.00,221.95 261.00,219.70 C262.00,217.45 263.08,214.90 264.00,213.00 C264.92,211.10 265.75,209.55 266.50,208.30 C267.25,207.05 267.83,206.25 268.50,205.50 C269.17,204.75 269.87,204.15 270.50,203.80 C271.13,203.45 271.63,203.28 272.30,203.40 C272.97,203.52 273.80,203.82 274.50,204.50 C275.20,205.18 275.90,206.42 276.50,207.50 C277.10,208.58 277.65,209.58 278.10,211.00 C278.55,212.42 278.92,214.10 279.20,216.00 C279.48,217.90 279.58,219.73 279.80,222.40 C280.02,225.07 280.30,229.07 280.50,232.00 C280.70,234.93 280.85,237.52 281.00,240.00 C281.15,242.48 281.33,245.75 281.40,246.90" fill="none" stroke="#cc0000" stroke-width="0.9" stroke-linejoin="round" stroke-dasharray="3,2.2" clip-path="url(#cf)"/>
<path d="M254.40,250.00 C254.75,249.25 255.73,247.22 256.50,245.50 C257.27,243.78 258.08,241.95 259.00,239.70 C259.92,237.45 261.00,234.70 262.00,232.00 C263.00,229.30 264.00,226.33 265.00,223.50 C266.00,220.67 267.13,217.47 268.00,215.00 C268.87,212.53 269.62,210.27 270.20,208.70 C270.78,207.13 271.10,206.28 271.50,205.60 C271.90,204.92 272.18,204.67 272.60,204.60 C273.02,204.53 273.47,204.68 274.00,205.20 C274.53,205.72 275.25,206.73 275.80,207.70 C276.35,208.67 276.77,209.62 277.30,211.00 C277.83,212.38 278.47,214.25 279.00,216.00 C279.53,217.75 280.10,219.62 280.50,221.50 C280.90,223.38 281.12,224.97 281.40,227.30 C281.68,229.63 282.07,234.13 282.20,235.50" fill="none" stroke="#009933" stroke-width="0.9" stroke-linejoin="round" stroke-dasharray="3,2.2" clip-path="url(#cf)"/>
<path d="M247.70,266.50 C248.25,264.92 249.95,259.67 251.00,257.00 C252.05,254.33 253.15,252.18 254.00,250.50 C254.85,248.82 255.10,248.23 256.10,246.90 C257.10,245.57 258.68,243.78 260.00,242.50 C261.32,241.22 262.75,240.10 264.00,239.20 C265.25,238.30 266.33,237.70 267.50,237.10 C268.67,236.50 269.92,236.02 271.00,235.60 C272.08,235.18 272.83,234.90 274.00,234.60 C275.17,234.30 276.63,234.07 278.00,233.80 C279.37,233.53 280.87,233.33 282.20,233.00 C283.53,232.67 284.78,232.20 286.00,231.80 C287.22,231.40 288.47,230.93 289.50,230.60 C290.53,230.27 291.75,229.93 292.20,229.80" fill="none" stroke="#111" stroke-width="0.9" stroke-linejoin="round" stroke-dasharray="3,2.2" clip-path="url(#cf)"/>
<path d="M279.30,211.70 H292.50" stroke="#d85050" stroke-width="1.5" fill="none"/>
<path d="M291.60,209.70 L297.00,211.70 L291.60,213.70 L292.80,211.70 Z" fill="#cc0000" stroke="#cc0000" stroke-width="0.35"/>
<line x1="215.40" y1="281.60" x2="228.80" y2="281.60" stroke="#999" stroke-width="1.3" />
<path d="M211.40,281.60 L217.00,279.70 L215.80,281.60 L217.00,283.50 Z" fill="#222" stroke="#222" stroke-width="0.5"/>
<polyline points="245.00,272.30 250.50,272.80 256.50,273.80 262.30,275.00 267.40,276.20 272.50,277.40 277.90,278.60 283.40,279.80 288.80,280.90 294.00,282.20 301.00,283.60" fill="none" stroke="#111" stroke-width="1.1" stroke-linejoin="round" />
<path d="M243.00,272.30 H247.00 M245.00,270.30 V274.30" stroke="#1a1a1a" stroke-width="0.8" fill="none"/>
<path d="M248.50,272.80 H252.50 M250.50,270.80 V274.80" stroke="#1a1a1a" stroke-width="0.8" fill="none"/>
<path d="M254.50,273.80 H258.50 M256.50,271.80 V275.80" stroke="#1a1a1a" stroke-width="0.8" fill="none"/>
<path d="M260.30,275.00 H264.30 M262.30,273.00 V277.00" stroke="#1a1a1a" stroke-width="0.8" fill="none"/>
<path d="M265.40,276.20 H269.40 M267.40,274.20 V278.20" stroke="#1a1a1a" stroke-width="0.8" fill="none"/>
<path d="M270.50,277.40 H274.50 M272.50,275.40 V279.40" stroke="#1a1a1a" stroke-width="0.8" fill="none"/>
<path d="M275.90,278.60 H279.90 M277.90,276.60 V280.60" stroke="#1a1a1a" stroke-width="0.8" fill="none"/>
<path d="M281.40,279.80 H285.40 M283.40,277.80 V281.80" stroke="#1a1a1a" stroke-width="0.8" fill="none"/>
<path d="M286.80,280.90 H290.80 M288.80,278.90 V282.90" stroke="#1a1a1a" stroke-width="0.8" fill="none"/>
<path d="M292.00,282.20 H296.00 M294.00,280.20 V284.20" stroke="#1a1a1a" stroke-width="0.8" fill="none"/>
<line x1="241.40" y1="244.50" x2="241.40" y2="254.00" stroke="#009933" stroke-width="0.9" />
<line x1="246.80" y1="245.50" x2="246.80" y2="255.00" stroke="#009933" stroke-width="0.9" />
<line x1="252.30" y1="247.50" x2="252.30" y2="257.00" stroke="#009933" stroke-width="0.9" />
<line x1="257.20" y1="250.00" x2="257.20" y2="259.50" stroke="#009933" stroke-width="0.9" />
<line x1="262.20" y1="253.50" x2="262.20" y2="263.00" stroke="#009933" stroke-width="0.9" />
<line x1="267.40" y1="259.00" x2="267.40" y2="268.50" stroke="#009933" stroke-width="0.9" />
<line x1="272.50" y1="266.00" x2="272.50" y2="275.50" stroke="#009933" stroke-width="0.9" />
<line x1="277.80" y1="271.60" x2="277.80" y2="281.10" stroke="#009933" stroke-width="0.9" />
<line x1="283.00" y1="274.60" x2="283.00" y2="284.10" stroke="#009933" stroke-width="0.9" />
<line x1="288.50" y1="275.40" x2="288.50" y2="284.90" stroke="#009933" stroke-width="0.9" />
<line x1="293.10" y1="276.40" x2="293.10" y2="285.90" stroke="#009933" stroke-width="0.9" />
<polyline points="240.00,246.50 246.80,249.00 252.30,251.50 257.20,254.00 262.20,258.00 266.50,262.50 270.00,267.50 273.50,272.50 277.80,277.00 283.00,279.80 288.50,280.60 293.10,281.40" fill="none" stroke="#009933" stroke-width="1.1" stroke-linejoin="round" />
<path d="M239.60,251.07 L241.40,247.93 L243.20,251.07 Z" fill="none" stroke="#009933" stroke-width="1.1"/>
<path d="M245.00,252.07 L246.80,248.93 L248.60,252.07 Z" fill="none" stroke="#009933" stroke-width="1.1"/>
<path d="M250.50,254.07 L252.30,250.93 L254.10,254.07 Z" fill="none" stroke="#009933" stroke-width="1.1"/>
<path d="M255.40,256.57 L257.20,253.43 L259.00,256.57 Z" fill="none" stroke="#009933" stroke-width="1.1"/>
<path d="M260.40,260.07 L262.20,256.93 L264.00,260.07 Z" fill="none" stroke="#009933" stroke-width="1.1"/>
<path d="M265.60,265.57 L267.40,262.43 L269.20,265.57 Z" fill="none" stroke="#009933" stroke-width="1.1"/>
<path d="M270.70,272.57 L272.50,269.43 L274.30,272.57 Z" fill="none" stroke="#009933" stroke-width="1.1"/>
<path d="M276.00,278.17 L277.80,275.03 L279.60,278.17 Z" fill="none" stroke="#009933" stroke-width="1.1"/>
<path d="M281.20,281.17 L283.00,278.03 L284.80,281.17 Z" fill="none" stroke="#009933" stroke-width="1.1"/>
<path d="M286.70,281.97 L288.50,278.83 L290.30,281.97 Z" fill="none" stroke="#009933" stroke-width="1.1"/>
<path d="M291.30,282.97 L293.10,279.83 L294.90,282.97 Z" fill="none" stroke="#009933" stroke-width="1.1"/>
<line x1="240.50" y1="237.80" x2="240.50" y2="248.80" stroke="#cc0000" stroke-width="0.9" />
<line x1="245.90" y1="239.60" x2="245.90" y2="250.60" stroke="#cc0000" stroke-width="0.9" />
<line x1="251.00" y1="242.40" x2="251.00" y2="253.40" stroke="#cc0000" stroke-width="0.9" />
<line x1="256.50" y1="246.00" x2="256.50" y2="257.00" stroke="#cc0000" stroke-width="0.9" />
<line x1="261.40" y1="249.60" x2="261.40" y2="260.60" stroke="#cc0000" stroke-width="0.9" />
<line x1="266.80" y1="257.80" x2="266.80" y2="268.80" stroke="#cc0000" stroke-width="0.9" />
<line x1="271.40" y1="266.90" x2="271.40" y2="277.90" stroke="#cc0000" stroke-width="0.9" />
<line x1="276.50" y1="271.80" x2="276.50" y2="282.80" stroke="#cc0000" stroke-width="0.9" />
<line x1="286.80" y1="274.20" x2="286.80" y2="285.20" stroke="#cc0000" stroke-width="0.9" />
<polyline points="240.00,243.50 245.90,245.50 251.00,248.20 256.50,251.80 261.40,255.80 266.80,263.20 271.40,271.80 276.50,277.30 281.00,279.60 286.80,280.60 292.00,281.20" fill="none" stroke="#cc0000" stroke-width="1.1" stroke-linejoin="round" />
<circle cx="240.50" cy="243.80" r="2.25" fill="#c00000"/>
<circle cx="245.90" cy="245.60" r="2.25" fill="#c00000"/>
<circle cx="251.00" cy="248.40" r="2.25" fill="#c00000"/>
<circle cx="256.50" cy="252.00" r="2.25" fill="#c00000"/>
<circle cx="261.40" cy="255.60" r="2.25" fill="#c00000"/>
<circle cx="266.80" cy="263.80" r="2.25" fill="#c00000"/>
<circle cx="271.40" cy="272.90" r="2.25" fill="#c00000"/>
<circle cx="276.50" cy="277.80" r="2.25" fill="#c00000"/>
<circle cx="286.80" cy="280.20" r="2.25" fill="#c00000"/>
</g>
<text x="42.60" y="11.40" font-size="8.3" fill="#000" text-anchor="start" stroke="#000" stroke-width="0.3">(a)</text>
<text x="43.00" y="109.00" font-size="8.3" fill="#000" text-anchor="start" stroke="#000" stroke-width="0.3">(b)</text>
<text x="43.00" y="207.30" font-size="8.3" fill="#000" text-anchor="start" stroke="#000" stroke-width="0.3">(c)</text>
<text x="206.40" y="11.20" font-size="8.3" fill="#000" text-anchor="start" stroke="#000" stroke-width="0.3">(d)</text>
<text x="206.40" y="109.60" font-size="8.3" fill="#000" text-anchor="start" stroke="#000" stroke-width="0.3">(e)</text>
<text x="206.60" y="207.60" font-size="8.3" fill="#000" text-anchor="start" stroke="#000" stroke-width="0.3">(f)</text>
<text x="21.80" y="69.20" font-size="10.2" fill="#000" text-anchor="start" stroke="#000" stroke-width="0.12" transform="rotate(-90 21.80 69.20)">T<tspan font-size="6.3" baseline-shift="-1.9" stroke-width="0.35">i</tspan></text>
<text x="21.80" y="56.60" font-size="10.2" fill="#000" text-anchor="start" textLength="26.6" lengthAdjust="spacing" stroke="#000" stroke-width="0.12" transform="rotate(-90 21.80 56.60)">[keV]</text>
<text x="8.40" y="172.60" font-size="10.2" fill="#000" text-anchor="start" stroke="#000" stroke-width="0.12" transform="rotate(-90 8.40 172.60)">E<tspan font-size="6.3" baseline-shift="-1.9" stroke-width="0.35">r</tspan></text>
<text x="8.40" y="157.00" font-size="10.2" fill="#000" text-anchor="start" textLength="36.6" lengthAdjust="spacing" stroke="#000" stroke-width="0.12" transform="rotate(-90 8.40 157.00)">[kV/m]</text>
<text x="21.90" y="246.80" font-size="10.2" fill="#000" text-anchor="start" stroke="#000" stroke-width="0.05" transform="rotate(-90 21.90 246.80)">Z</text>
<text x="186.30" y="75.40" font-size="10.2" fill="#000" text-anchor="start" stroke="#000" stroke-width="0.12" transform="rotate(-90 186.30 75.40)">T<tspan font-size="6.5" baseline-shift="-2.1" stroke-width="0.35">e</tspan></text>
<text x="181.20" y="66.30" font-size="7.2" fill="#000" text-anchor="start" textLength="11.4" lengthAdjust="spacingAndGlyphs" stroke="#000" stroke-width="0.3" transform="rotate(-90 181.20 66.30)">ECE</text>
<text x="186.50" y="49.30" font-size="10.2" fill="#000" text-anchor="start" textLength="26.6" lengthAdjust="spacing" stroke="#000" stroke-width="0.12" transform="rotate(-90 186.50 49.30)">[keV]</text>
<text x="186.60" y="187.00" font-size="10.2" fill="#000" text-anchor="start" stroke="#000" stroke-width="0.12" transform="rotate(-90 186.60 187.00)">n<tspan font-size="6.3" baseline-shift="-1.9" stroke-width="0.35">e</tspan><tspan font-size="6.4" baseline-shift="5.0" stroke-width="0.35">LiBP</tspan></text>
<text x="186.60" y="159.40" font-size="10.2" fill="#000" text-anchor="start" textLength="52.8" lengthAdjust="spacing" stroke="#000" stroke-width="0.12" transform="rotate(-90 186.60 159.40)">[10<tspan font-size="6.4" baseline-shift="4.2" stroke-width="0.35">19</tspan> m<tspan font-size="6.4" baseline-shift="4.2" stroke-width="0.35">−3</tspan>]</text>
<text x="186.60" y="271.60" font-size="10.2" fill="#000" text-anchor="start" stroke="#000" stroke-width="0.12" transform="rotate(-90 186.60 271.60)">n<tspan font-size="6.3" baseline-shift="-1.9" stroke-width="0.35">i</tspan><tspan font-size="6.7" baseline-shift="5.0" stroke-width="0.35">C6+</tspan></text>
<text x="186.60" y="245.10" font-size="10.2" fill="#000" text-anchor="start" textLength="27.3" lengthAdjust="spacing" stroke="#000" stroke-width="0.12" transform="rotate(-90 186.60 245.10)">[a.u.]</text>
<g transform="translate(164.60,66.20) rotate(-90)" fill="#cc0000"><path d="M0.40,-2.55 H5.60" stroke="#cc0000" stroke-width="0.95"/><path d="M7.60,-6.55 L13.60,-6.55 L10.60,-0.35 Z" fill="none" stroke="#cc0000" stroke-width="0.95" stroke-linejoin="miter"/><text x="14.20" y="0" font-size="10.2" stroke="#cc0000" stroke-width="0.1" textLength="20.8" lengthAdjust="spacing">T<tspan font-size="6.3" baseline-shift="-1.9" stroke-width="0.35">i</tspan>/T<tspan font-size="6.3" baseline-shift="-1.9" stroke-width="0.35">i</tspan></text></g>
<g transform="translate(328.80,166.50) rotate(-90)" fill="#cc0000"><path d="M0.40,-2.55 H5.60" stroke="#cc0000" stroke-width="0.95"/><path d="M7.60,-6.55 L14.20,-6.55 L10.90,-0.35 Z" fill="none" stroke="#cc0000" stroke-width="0.95" stroke-linejoin="miter"/><text x="14.80" y="0" font-size="10.2" stroke="#cc0000" stroke-width="0.1" textLength="27.7" lengthAdjust="spacing">n<tspan font-size="6.3" baseline-shift="-1.9" stroke-width="0.35">e</tspan>/n<tspan font-size="6.3" baseline-shift="-1.9" stroke-width="0.35">e</tspan></text></g>
<g transform="translate(329.00,275.00) rotate(-90)" fill="#cc0000"><path d="M0.40,-2.55 H5.00" stroke="#cc0000" stroke-width="0.95"/><path d="M7.40,-6.55 L12.40,-6.55 L9.90,-0.35 Z" fill="none" stroke="#cc0000" stroke-width="0.95" stroke-linejoin="miter"/><text x="13.00" y="0" font-size="10.2" stroke="#cc0000" stroke-width="0.1" textLength="48.8" lengthAdjust="spacing">n<tspan font-size="6.3" baseline-shift="-1.9" stroke-width="0.35">i</tspan><tspan font-size="6.7" baseline-shift="5.0" stroke-width="0.35">C6+</tspan>/n<tspan font-size="6.3" baseline-shift="-1.9" stroke-width="0.35">i</tspan><tspan font-size="6.7" baseline-shift="5.0" stroke-width="0.35">C6+</tspan></text></g>
<text x="58.50" y="314.50" font-size="9.4" fill="#000" text-anchor="start" textLength="60.8" lengthAdjust="spacing" stroke="#000" stroke-width="0.08">R−R<tspan font-size="5.4" baseline-shift="-2.2" stroke-width="0.35">SEP</tspan> [cm]</text>
<text x="221.80" y="314.50" font-size="9.4" fill="#000" text-anchor="start" textLength="60.8" lengthAdjust="spacing" stroke="#000" stroke-width="0.08">R−R<tspan font-size="5.4" baseline-shift="-2.2" stroke-width="0.35">SEP</tspan> [cm]</text>
<rect x="237.6" y="9.9" width="57.0" height="24.6" fill="#fff" stroke="#444" stroke-width="0.95"/>
<text x="238.3" y="16.60" font-size="8.4" fill="#000" stroke="#000" stroke-width="0.25" textLength="8.9" lengthAdjust="spacingAndGlyphs">Δt</text>
<text x="246.6" y="19.00" font-size="5.9" fill="#000" stroke="#000" stroke-width="0.25" textLength="11.0" lengthAdjust="spacingAndGlyphs">L−H</text>
<text x="257.8" y="16.60" font-size="8.4" fill="#000" stroke="#000" stroke-width="0.25" textLength="5.6" lengthAdjust="spacingAndGlyphs">=</text>
<text x="264.6" y="16.60" font-size="8.4" fill="#000" stroke="#000" stroke-width="0.25" textLength="29.0" lengthAdjust="spacingAndGlyphs">−0.13s</text>
<text x="238.3" y="23.60" font-size="8.4" fill="#009933" stroke="#009933" stroke-width="0.25" textLength="8.9" lengthAdjust="spacingAndGlyphs">Δt</text>
<text x="246.6" y="26.00" font-size="5.9" fill="#009933" stroke="#009933" stroke-width="0.25" textLength="11.0" lengthAdjust="spacingAndGlyphs">L−H</text>
<text x="257.8" y="23.60" font-size="8.4" fill="#009933" stroke="#009933" stroke-width="0.25" textLength="5.6" lengthAdjust="spacingAndGlyphs">=</text>
<text x="268.4" y="23.60" font-size="8.4" fill="#009933" stroke="#009933" stroke-width="0.25" textLength="22.7" lengthAdjust="spacingAndGlyphs">0.27s</text>
<text x="238.3" y="30.60" font-size="8.4" fill="#cc0000" stroke="#cc0000" stroke-width="0.25" textLength="8.9" lengthAdjust="spacingAndGlyphs">Δt</text>
<text x="246.6" y="33.00" font-size="5.9" fill="#cc0000" stroke="#cc0000" stroke-width="0.25" textLength="11.0" lengthAdjust="spacingAndGlyphs">L−H</text>
<text x="257.8" y="30.60" font-size="8.4" fill="#cc0000" stroke="#cc0000" stroke-width="0.25" textLength="5.6" lengthAdjust="spacingAndGlyphs">=</text>
<text x="268.4" y="30.60" font-size="8.4" fill="#cc0000" stroke="#cc0000" stroke-width="0.25" textLength="22.7" lengthAdjust="spacingAndGlyphs">0.33s</text>
</svg></body></html>
